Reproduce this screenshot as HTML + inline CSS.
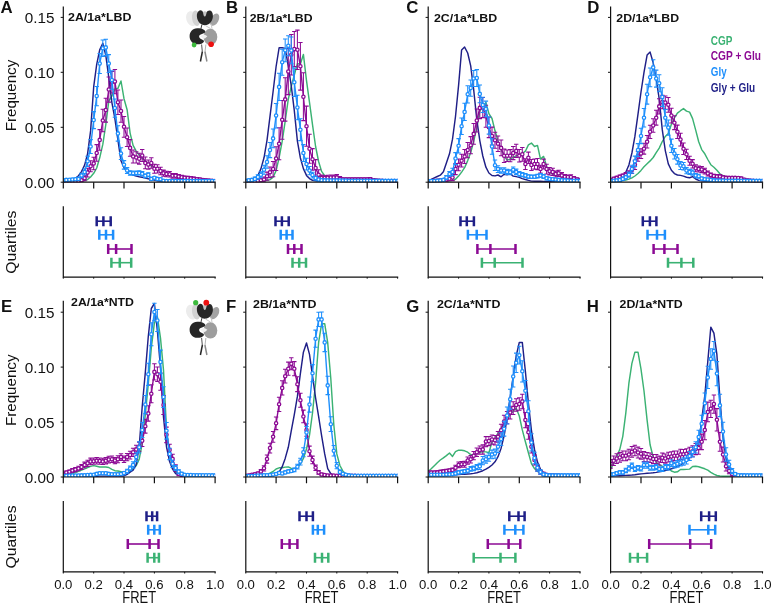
<!DOCTYPE html>
<html><head><meta charset="utf-8"><style>
html,body{margin:0;padding:0;background:#fff;width:772px;height:603px;overflow:hidden}
svg{display:block;will-change:transform}
</style></head><body>
<svg width="772" height="603" viewBox="0 0 772 603">
<defs><clipPath id="cp00"><rect x="63.3" y="-5.5" width="151.8" height="187.7"/></clipPath><clipPath id="cp01"><rect x="245.8" y="-5.5" width="151.8" height="187.7"/></clipPath><clipPath id="cp02"><rect x="428.2" y="-5.5" width="151.8" height="187.7"/></clipPath><clipPath id="cp03"><rect x="610.6" y="-5.5" width="151.8" height="187.7"/></clipPath><clipPath id="cp10"><rect x="63.3" y="288.8" width="151.8" height="188.2"/></clipPath><clipPath id="cp11"><rect x="245.8" y="288.8" width="151.8" height="188.2"/></clipPath><clipPath id="cp12"><rect x="428.2" y="288.8" width="151.8" height="188.2"/></clipPath><clipPath id="cp13"><rect x="610.6" y="288.8" width="151.8" height="188.2"/></clipPath></defs>
<g clip-path="url(#cp00)">
<polyline points="63.3,181.7 66.3,181.6 69.4,181.6 72.4,181.5 75.4,181.4 78.5,181.3 81.5,181.1 84.6,180.6 87.6,179.5 90.6,177.0 93.7,173.3 96.7,168.0 99.7,157.8 102.8,144.4 105.8,124.6 108.8,101.0 111.9,96.0 114.9,88.9 117.9,88.4 121.0,81.0 124.0,98.7 127.1,109.7 130.1,133.1 133.1,145.4 136.2,151.2 139.2,155.1 142.2,158.4 145.3,161.1 148.3,163.7 151.3,166.0 154.4,167.9 157.4,169.5 160.5,171.0 163.5,172.4 166.5,173.5 169.6,174.5 172.6,175.3 175.6,176.1 178.7,176.7 181.7,177.3 184.7,177.8 187.8,178.3 190.8,178.8 193.8,179.3 196.9,179.7 199.9,180.0 203.0,180.3 206.0,180.5 209.0,180.8 212.1,181.0 215.1,181.1" fill="none" stroke="#3bb273" stroke-width="1.45" stroke-linejoin="round"/>
<polyline points="63.3,181.7 66.3,181.4 69.4,180.7 72.4,179.7 75.4,178.3 78.5,175.7 81.5,171.6 84.6,165.1 87.6,153.6 90.6,130.9 93.7,86.7 96.7,64.3 99.7,49.9 102.8,43.3 105.8,55.3 108.8,77.6 111.9,102.6 114.9,118.7 117.9,139.8 121.0,160.8 124.0,167.8 127.1,171.6 130.1,173.7 133.1,175.1 136.2,176.1 139.2,176.8 142.2,177.3 145.3,178.0 148.3,178.8 151.3,179.5 154.4,180.1 157.4,180.7 160.5,181.0 163.5,181.1 166.5,181.2 169.6,181.3 172.6,181.3 175.6,181.4 178.7,181.4 181.7,181.5 184.7,181.5 187.8,181.5 190.8,181.6 193.8,181.6 196.9,181.6 199.9,181.6 203.0,181.6 206.0,181.6 209.0,181.6 212.1,181.6 215.1,181.7" fill="none" stroke="#1f1f87" stroke-width="1.45" stroke-linejoin="round"/>
<path d="M63.3,180.6V182.7M61.1,180.6h4.4M61.1,182.7h4.4M66.3,180.5V182.7M64.1,180.5h4.4M64.1,182.7h4.4M69.4,180.4V182.7M67.2,180.4h4.4M67.2,182.7h4.4M72.4,180.3V182.6M70.2,180.3h4.4M70.2,182.6h4.4M75.4,180.1V182.5M73.2,180.1h4.4M73.2,182.5h4.4M78.5,179.8V182.4M76.3,179.8h4.4M76.3,182.4h4.4M81.5,178.5V181.9M79.3,178.5h4.4M79.3,181.9h4.4M84.6,175.7V180.8M82.4,175.7h4.4M82.4,180.8h4.4M87.6,168.3V176.9M85.4,168.3h4.4M85.4,176.9h4.4M90.6,160.8V171.8M88.4,160.8h4.4M88.4,171.8h4.4M93.7,157.2V169.7M91.5,157.2h4.4M91.5,169.7h4.4M96.7,144.6V161.3M94.5,144.6h4.4M94.5,161.3h4.4M99.7,129.6V150.3M97.5,129.6h4.4M97.5,150.3h4.4M102.8,109.2V131.7M100.6,109.2h4.4M100.6,131.7h4.4M105.8,98.2V122.1M103.6,98.2h4.4M103.6,122.1h4.4M108.8,76.9V102.1M106.6,76.9h4.4M106.6,102.1h4.4M111.9,71.5V93.0M109.7,71.5h4.4M109.7,93.0h4.4M114.9,69.5V93.7M112.7,69.5h4.4M112.7,93.7h4.4M117.9,90.0V114.4M115.7,90.0h4.4M115.7,114.4h4.4M121.0,99.9V122.3M118.8,99.9h4.4M118.8,122.3h4.4M124.0,116.4V137.3M121.8,116.4h4.4M121.8,137.3h4.4M127.1,127.9V146.4M124.9,127.9h4.4M124.9,146.4h4.4M130.1,139.6V156.2M127.9,139.6h4.4M127.9,156.2h4.4M133.1,149.9V162.9M130.9,149.9h4.4M130.9,162.9h4.4M136.2,151.8V163.0M134.0,151.8h4.4M134.0,163.0h4.4M139.2,153.3V164.1M137.0,153.3h4.4M137.0,164.1h4.4M142.2,149.5V161.5M140.0,149.5h4.4M140.0,161.5h4.4M145.3,157.0V168.7M143.1,157.0h4.4M143.1,168.7h4.4M148.3,160.0V169.3M146.1,160.0h4.4M146.1,169.3h4.4M151.3,157.8V168.3M149.1,157.8h4.4M149.1,168.3h4.4M154.4,164.3V173.3M152.2,164.3h4.4M152.2,173.3h4.4M157.4,164.7V172.9M155.2,164.7h4.4M155.2,172.9h4.4M160.5,167.2V174.8M158.3,167.2h4.4M158.3,174.8h4.4M163.5,170.1V176.3M161.3,170.1h4.4M161.3,176.3h4.4M166.5,171.2V176.7M164.3,171.2h4.4M164.3,176.7h4.4M169.6,171.5V177.0M167.4,171.5h4.4M167.4,177.0h4.4M172.6,173.4V178.2M170.4,173.4h4.4M170.4,178.2h4.4M175.6,173.5V178.1M173.4,173.5h4.4M173.4,178.1h4.4M178.7,174.4V178.8M176.5,174.4h4.4M176.5,178.8h4.4M181.7,175.2V179.3M179.5,175.2h4.4M179.5,179.3h4.4M184.7,175.9V179.7M182.5,175.9h4.4M182.5,179.7h4.4M187.8,176.3V180.0M185.6,176.3h4.4M185.6,180.0h4.4M190.8,176.6V180.2M188.6,176.6h4.4M188.6,180.2h4.4M193.8,177.0V180.5M191.6,177.0h4.4M191.6,180.5h4.4M196.9,177.5V180.8M194.7,177.5h4.4M194.7,180.8h4.4M199.9,178.1V181.2M197.7,178.1h4.4M197.7,181.2h4.4M203.0,178.5V181.5M200.8,178.5h4.4M200.8,181.5h4.4M206.0,178.9V181.7M203.8,178.9h4.4M203.8,181.7h4.4M209.0,179.3V182.0M206.8,179.3h4.4M206.8,182.0h4.4M212.1,179.6V182.2M209.9,179.6h4.4M209.9,182.2h4.4M215.1,179.8V182.4M212.9,179.8h4.4M212.9,182.4h4.4" fill="none" stroke="#8c0a94" stroke-width="1.05"/>
<polyline points="63.3,181.7 66.3,181.6 69.4,181.6 72.4,181.5 75.4,181.3 78.5,181.1 81.5,180.2 84.6,178.2 87.6,172.6 90.6,166.3 93.7,163.4 96.7,153.0 99.7,139.9 102.8,120.5 105.8,110.1 108.8,89.5 111.9,82.2 114.9,81.6 117.9,102.2 121.0,111.1 124.0,126.8 127.1,137.2 130.1,147.9 133.1,156.4 136.2,157.4 139.2,158.7 142.2,155.5 145.3,162.9 148.3,164.6 151.3,163.1 154.4,168.8 157.4,168.8 160.5,171.0 163.5,173.2 166.5,174.0 169.6,174.3 172.6,175.8 175.6,175.8 178.7,176.6 181.7,177.3 184.7,177.8 187.8,178.1 190.8,178.4 193.8,178.8 196.9,179.2 199.9,179.6 203.0,180.0 206.0,180.3 209.0,180.6 212.1,180.9 215.1,181.1" fill="none" stroke="#8c0a94" stroke-width="1.4" stroke-linejoin="round"/>
<g fill="#fff" stroke="#8c0a94" stroke-width="1.3"><circle cx="63.3" cy="181.7" r="1.65"/><circle cx="66.3" cy="181.6" r="1.65"/><circle cx="69.4" cy="181.6" r="1.65"/><circle cx="72.4" cy="181.5" r="1.65"/><circle cx="75.4" cy="181.3" r="1.65"/><circle cx="78.5" cy="181.1" r="1.65"/><circle cx="81.5" cy="180.2" r="1.65"/><circle cx="84.6" cy="178.2" r="1.65"/><circle cx="87.6" cy="172.6" r="1.65"/><circle cx="90.6" cy="166.3" r="1.65"/><circle cx="93.7" cy="163.4" r="1.65"/><circle cx="96.7" cy="153.0" r="1.65"/><circle cx="99.7" cy="139.9" r="1.65"/><circle cx="102.8" cy="120.5" r="1.65"/><circle cx="105.8" cy="110.1" r="1.65"/><circle cx="108.8" cy="89.5" r="1.65"/><circle cx="111.9" cy="82.2" r="1.65"/><circle cx="114.9" cy="81.6" r="1.65"/><circle cx="117.9" cy="102.2" r="1.65"/><circle cx="121.0" cy="111.1" r="1.65"/><circle cx="124.0" cy="126.8" r="1.65"/><circle cx="127.1" cy="137.2" r="1.65"/><circle cx="130.1" cy="147.9" r="1.65"/><circle cx="133.1" cy="156.4" r="1.65"/><circle cx="136.2" cy="157.4" r="1.65"/><circle cx="139.2" cy="158.7" r="1.65"/><circle cx="142.2" cy="155.5" r="1.65"/><circle cx="145.3" cy="162.9" r="1.65"/><circle cx="148.3" cy="164.6" r="1.65"/><circle cx="151.3" cy="163.1" r="1.65"/><circle cx="154.4" cy="168.8" r="1.65"/><circle cx="157.4" cy="168.8" r="1.65"/><circle cx="160.5" cy="171.0" r="1.65"/><circle cx="163.5" cy="173.2" r="1.65"/><circle cx="166.5" cy="174.0" r="1.65"/><circle cx="169.6" cy="174.3" r="1.65"/><circle cx="172.6" cy="175.8" r="1.65"/><circle cx="175.6" cy="175.8" r="1.65"/><circle cx="178.7" cy="176.6" r="1.65"/><circle cx="181.7" cy="177.3" r="1.65"/><circle cx="184.7" cy="177.8" r="1.65"/><circle cx="187.8" cy="178.1" r="1.65"/><circle cx="190.8" cy="178.4" r="1.65"/><circle cx="193.8" cy="178.8" r="1.65"/><circle cx="196.9" cy="179.2" r="1.65"/><circle cx="199.9" cy="179.6" r="1.65"/><circle cx="203.0" cy="180.0" r="1.65"/><circle cx="206.0" cy="180.3" r="1.65"/><circle cx="209.0" cy="180.6" r="1.65"/><circle cx="212.1" cy="180.9" r="1.65"/><circle cx="215.1" cy="181.1" r="1.65"/></g>
<path d="M63.3,179.3V181.8M61.1,179.3h4.4M61.1,181.8h4.4M66.3,178.6V181.2M64.1,178.6h4.4M64.1,181.2h4.4M69.4,178.4V180.9M67.2,178.4h4.4M67.2,180.9h4.4M72.4,178.2V180.8M70.2,178.2h4.4M70.2,180.8h4.4M75.4,178.0V180.6M73.2,178.0h4.4M73.2,180.6h4.4M78.5,177.3V180.5M76.3,177.3h4.4M76.3,180.5h4.4M81.5,173.2V177.6M79.3,173.2h4.4M79.3,177.6h4.4M84.6,168.7V175.0M82.4,168.7h4.4M82.4,175.0h4.4M87.6,156.3V166.4M85.4,156.3h4.4M85.4,166.4h4.4M90.6,139.6V153.4M88.4,139.6h4.4M88.4,153.4h4.4M93.7,111.6V128.6M91.5,111.6h4.4M91.5,128.6h4.4M96.7,86.4V105.8M94.5,86.4h4.4M94.5,105.8h4.4M99.7,53.6V73.5M97.5,53.6h4.4M97.5,73.5h4.4M102.8,40.0V56.4M100.6,40.0h4.4M100.6,56.4h4.4M105.8,39.3V55.6M103.6,39.3h4.4M103.6,55.6h4.4M108.8,54.6V72.5M106.6,54.6h4.4M106.6,72.5h4.4M111.9,70.7V89.3M109.7,70.7h4.4M109.7,89.3h4.4M114.9,98.9V117.2M112.7,98.9h4.4M112.7,117.2h4.4M117.9,125.7V141.1M115.7,125.7h4.4M115.7,141.1h4.4M121.0,147.8V159.5M118.8,147.8h4.4M118.8,159.5h4.4M124.0,160.6V169.1M121.8,160.6h4.4M121.8,169.1h4.4M127.1,167.6V173.5M124.9,167.6h4.4M124.9,173.5h4.4M130.1,170.7V175.2M127.9,170.7h4.4M127.9,175.2h4.4M133.1,171.1V175.2M130.9,171.1h4.4M130.9,175.2h4.4M136.2,171.0V175.1M134.0,171.0h4.4M134.0,175.1h4.4M139.2,170.8V175.0M137.0,170.8h4.4M137.0,175.0h4.4M142.2,171.6V175.9M140.0,171.6h4.4M140.0,175.9h4.4M145.3,174.1V177.6M143.1,174.1h4.4M143.1,177.6h4.4M148.3,172.7V176.8M146.1,172.7h4.4M146.1,176.8h4.4M151.3,177.4V180.4M149.1,177.4h4.4M149.1,180.4h4.4M154.4,176.4V179.2M152.2,176.4h4.4M152.2,179.2h4.4M157.4,177.5V180.3M155.2,177.5h4.4M155.2,180.3h4.4M160.5,177.8V180.6M158.3,177.8h4.4M158.3,180.6h4.4M163.5,179.4V181.9M161.3,179.4h4.4M161.3,181.9h4.4M166.5,179.9V182.1M164.3,179.9h4.4M164.3,182.1h4.4M169.6,180.0V182.2M167.4,180.0h4.4M167.4,182.2h4.4M172.6,180.0V182.2M170.4,180.0h4.4M170.4,182.2h4.4M175.6,180.0V182.2M173.4,180.0h4.4M173.4,182.2h4.4M178.7,180.0V182.2M176.5,180.0h4.4M176.5,182.2h4.4M181.7,180.0V182.2M179.5,180.0h4.4M179.5,182.2h4.4M184.7,180.0V182.2M182.5,180.0h4.4M182.5,182.2h4.4M187.8,180.0V182.2M185.6,180.0h4.4M185.6,182.2h4.4M190.8,180.0V182.2M188.6,180.0h4.4M188.6,182.2h4.4M193.8,180.0V182.2M191.6,180.0h4.4M191.6,182.2h4.4M196.9,180.0V182.2M194.7,180.0h4.4M194.7,182.2h4.4M199.9,180.0V182.2M197.7,180.0h4.4M197.7,182.2h4.4M203.0,180.0V182.2M200.8,180.0h4.4M200.8,182.2h4.4M206.0,180.0V182.2M203.8,180.0h4.4M203.8,182.2h4.4M209.0,180.0V182.2M206.8,180.0h4.4M206.8,182.2h4.4M212.1,180.0V182.2M209.9,180.0h4.4M209.9,182.2h4.4M215.1,180.0V182.2M212.9,180.0h4.4M212.9,182.2h4.4" fill="none" stroke="#1e8ffc" stroke-width="1.05"/>
<polyline points="63.3,180.6 66.3,179.9 69.4,179.7 72.4,179.5 75.4,179.3 78.5,178.9 81.5,175.4 84.6,171.9 87.6,161.3 90.6,146.5 93.7,120.1 96.7,96.1 99.7,63.6 102.8,48.2 105.8,47.4 108.8,63.6 111.9,80.0 114.9,108.1 117.9,133.4 121.0,153.6 124.0,164.8 127.1,170.6 130.1,172.9 133.1,173.2 136.2,173.1 139.2,172.9 142.2,173.7 145.3,175.8 148.3,174.7 151.3,178.9 154.4,177.8 157.4,178.9 160.5,179.2 163.5,180.7 166.5,181.0 169.6,181.1 172.6,181.1 175.6,181.1 178.7,181.1 181.7,181.1 184.7,181.1 187.8,181.1 190.8,181.1 193.8,181.1 196.9,181.1 199.9,181.1 203.0,181.1 206.0,181.1 209.0,181.1 212.1,181.1 215.1,181.1" fill="none" stroke="#1e8ffc" stroke-width="1.4" stroke-linejoin="round"/>
<g fill="#fff" stroke="#1e8ffc" stroke-width="1.3"><circle cx="63.3" cy="180.6" r="1.65"/><circle cx="66.3" cy="179.9" r="1.65"/><circle cx="69.4" cy="179.7" r="1.65"/><circle cx="72.4" cy="179.5" r="1.65"/><circle cx="75.4" cy="179.3" r="1.65"/><circle cx="78.5" cy="178.9" r="1.65"/><circle cx="81.5" cy="175.4" r="1.65"/><circle cx="84.6" cy="171.9" r="1.65"/><circle cx="87.6" cy="161.3" r="1.65"/><circle cx="90.6" cy="146.5" r="1.65"/><circle cx="93.7" cy="120.1" r="1.65"/><circle cx="96.7" cy="96.1" r="1.65"/><circle cx="99.7" cy="63.6" r="1.65"/><circle cx="102.8" cy="48.2" r="1.65"/><circle cx="105.8" cy="47.4" r="1.65"/><circle cx="108.8" cy="63.6" r="1.65"/><circle cx="111.9" cy="80.0" r="1.65"/><circle cx="114.9" cy="108.1" r="1.65"/><circle cx="117.9" cy="133.4" r="1.65"/><circle cx="121.0" cy="153.6" r="1.65"/><circle cx="124.0" cy="164.8" r="1.65"/><circle cx="127.1" cy="170.6" r="1.65"/><circle cx="130.1" cy="172.9" r="1.65"/><circle cx="133.1" cy="173.2" r="1.65"/><circle cx="136.2" cy="173.1" r="1.65"/><circle cx="139.2" cy="172.9" r="1.65"/><circle cx="142.2" cy="173.7" r="1.65"/><circle cx="145.3" cy="175.8" r="1.65"/><circle cx="148.3" cy="174.7" r="1.65"/><circle cx="151.3" cy="178.9" r="1.65"/><circle cx="154.4" cy="177.8" r="1.65"/><circle cx="157.4" cy="178.9" r="1.65"/><circle cx="160.5" cy="179.2" r="1.65"/><circle cx="163.5" cy="180.7" r="1.65"/><circle cx="166.5" cy="181.0" r="1.65"/><circle cx="169.6" cy="181.1" r="1.65"/><circle cx="172.6" cy="181.1" r="1.65"/><circle cx="175.6" cy="181.1" r="1.65"/><circle cx="178.7" cy="181.1" r="1.65"/><circle cx="181.7" cy="181.1" r="1.65"/><circle cx="184.7" cy="181.1" r="1.65"/><circle cx="187.8" cy="181.1" r="1.65"/><circle cx="190.8" cy="181.1" r="1.65"/><circle cx="193.8" cy="181.1" r="1.65"/><circle cx="196.9" cy="181.1" r="1.65"/><circle cx="199.9" cy="181.1" r="1.65"/><circle cx="203.0" cy="181.1" r="1.65"/><circle cx="206.0" cy="181.1" r="1.65"/><circle cx="209.0" cy="181.1" r="1.65"/><circle cx="212.1" cy="181.1" r="1.65"/><circle cx="215.1" cy="181.1" r="1.65"/></g>
</g>
<g clip-path="url(#cp01)">
<polyline points="245.8,181.7 248.8,181.6 251.8,181.6 254.9,181.4 257.9,181.2 260.9,181.0 264.0,180.6 267.0,180.2 270.0,179.6 273.1,177.2 276.1,170.6 279.1,157.9 282.2,141.2 285.2,121.2 288.3,99.0 291.3,86.4 294.3,75.0 297.4,63.6 300.4,64.0 303.4,54.4 306.5,80.7 309.5,102.3 312.5,124.7 315.6,146.5 318.6,161.5 321.6,171.4 324.7,175.6 327.7,177.3 330.8,178.2 333.8,179.2 336.8,180.0 339.9,180.2 342.9,180.3 345.9,180.4 349.0,180.6 352.0,180.7 355.0,180.8 358.1,180.9 361.1,180.9 364.2,181.0 367.2,181.1 370.2,181.1 373.3,181.2 376.3,181.2 379.3,181.2 382.4,181.3 385.4,181.3 388.4,181.3 391.5,181.3 394.5,181.3 397.6,181.3" fill="none" stroke="#3bb273" stroke-width="1.45" stroke-linejoin="round"/>
<polyline points="245.8,181.7 248.8,181.3 251.8,180.3 254.9,178.7 257.9,175.5 260.9,168.9 264.0,157.8 267.0,140.3 270.0,116.3 273.1,91.5 276.1,66.5 279.1,47.8 282.2,47.8 285.2,48.4 288.3,66.4 291.3,86.2 294.3,110.6 297.4,141.1 300.4,158.0 303.4,168.6 306.5,175.4 309.5,178.6 312.5,180.3 315.6,180.7 318.6,181.0 321.6,181.1 324.7,181.2 327.7,181.2 330.8,181.2 333.8,181.3 336.8,181.3 339.9,181.4 342.9,181.4 345.9,181.4 349.0,181.5 352.0,181.5 355.0,181.5 358.1,181.5 361.1,181.5 364.2,181.6 367.2,181.6 370.2,181.6 373.3,181.6 376.3,181.6 379.3,181.6 382.4,181.6 385.4,181.6 388.4,181.6 391.5,181.6 394.5,181.7 397.6,181.7" fill="none" stroke="#1f1f87" stroke-width="1.45" stroke-linejoin="round"/>
<path d="M245.8,180.4V182.9M243.6,180.4h4.4M243.6,182.9h4.4M248.8,180.3V182.9M246.6,180.3h4.4M246.6,182.9h4.4M251.8,180.1V182.8M249.6,180.1h4.4M249.6,182.8h4.4M254.9,179.7V182.7M252.7,179.7h4.4M252.7,182.7h4.4M257.9,179.2V182.4M255.7,179.2h4.4M255.7,182.4h4.4M260.9,178.4V182.1M258.7,178.4h4.4M258.7,182.1h4.4M264.0,177.0V182.1M261.8,177.0h4.4M261.8,182.1h4.4M267.0,172.1V180.2M264.8,172.1h4.4M264.8,180.2h4.4M270.0,167.0V177.6M267.8,167.0h4.4M267.8,177.6h4.4M273.1,161.4V176.8M270.9,161.4h4.4M270.9,176.8h4.4M276.1,146.7V170.5M273.9,146.7h4.4M273.9,170.5h4.4M279.1,127.7V159.8M276.9,127.7h4.4M276.9,159.8h4.4M282.2,100.4V139.2M280.0,100.4h4.4M280.0,139.2h4.4M285.2,77.7V121.1M283.0,77.7h4.4M283.0,121.1h4.4M288.3,48.6V94.6M286.1,48.6h4.4M286.1,94.6h4.4M291.3,34.5V75.0M289.1,34.5h4.4M289.1,75.0h4.4M294.3,31.5V66.6M292.1,31.5h4.4M292.1,66.6h4.4M297.4,30.1V69.4M295.2,30.1h4.4M295.2,69.4h4.4M300.4,42.5V90.1M298.2,42.5h4.4M298.2,90.1h4.4M303.4,72.8V120.6M301.2,72.8h4.4M301.2,120.6h4.4M306.5,106.1V146.3M304.3,106.1h4.4M304.3,146.3h4.4M309.5,134.2V163.2M307.3,134.2h4.4M307.3,163.2h4.4M312.5,148.6V170.1M310.3,148.6h4.4M310.3,170.1h4.4M315.6,159.6V176.4M313.4,159.6h4.4M313.4,176.4h4.4M318.6,169.7V179.7M316.4,169.7h4.4M316.4,179.7h4.4M321.6,175.1V180.8M319.4,175.1h4.4M319.4,180.8h4.4M324.7,175.7V180.3M322.5,175.7h4.4M322.5,180.3h4.4M327.7,175.3V180.1M325.5,175.3h4.4M325.5,180.1h4.4M330.8,175.1V180.0M328.6,175.1h4.4M328.6,180.0h4.4M333.8,174.9V179.9M331.6,174.9h4.4M331.6,179.9h4.4M336.8,174.6V180.1M334.6,174.6h4.4M334.6,180.1h4.4M339.9,176.6V181.3M337.7,176.6h4.4M337.7,181.3h4.4M342.9,177.7V181.5M340.7,177.7h4.4M340.7,181.5h4.4M345.9,177.7V181.4M343.7,177.7h4.4M343.7,181.4h4.4M349.0,177.7V181.4M346.8,177.7h4.4M346.8,181.4h4.4M352.0,177.7V181.4M349.8,177.7h4.4M349.8,181.4h4.4M355.0,177.7V181.4M352.8,177.7h4.4M352.8,181.4h4.4M358.1,177.7V181.4M355.9,177.7h4.4M355.9,181.4h4.4M361.1,177.7V181.4M358.9,177.7h4.4M358.9,181.4h4.4M364.2,177.7V181.4M362.0,177.7h4.4M362.0,181.4h4.4M367.2,177.7V181.4M365.0,177.7h4.4M365.0,181.4h4.4M370.2,177.6V181.5M368.0,177.6h4.4M368.0,181.5h4.4M373.3,178.5V182.1M371.1,178.5h4.4M371.1,182.1h4.4M376.3,179.0V182.2M374.1,179.0h4.4M374.1,182.2h4.4M379.3,179.2V182.3M377.1,179.2h4.4M377.1,182.3h4.4M382.4,179.4V182.4M380.2,179.4h4.4M380.2,182.4h4.4M385.4,179.5V182.4M383.2,179.5h4.4M383.2,182.4h4.4M388.4,179.6V182.4M386.2,179.6h4.4M386.2,182.4h4.4M391.5,179.7V182.5M389.3,179.7h4.4M389.3,182.5h4.4M394.5,179.7V182.5M392.3,179.7h4.4M392.3,182.5h4.4M397.6,179.7V182.5M395.4,179.7h4.4M395.4,182.5h4.4" fill="none" stroke="#8c0a94" stroke-width="1.05"/>
<polyline points="245.8,181.7 248.8,181.6 251.8,181.5 254.9,181.2 257.9,180.8 260.9,180.3 264.0,179.6 267.0,176.2 270.0,172.3 273.1,169.1 276.1,158.6 279.1,143.8 282.2,119.8 285.2,99.4 288.3,71.6 291.3,54.8 294.3,49.1 297.4,49.7 300.4,66.3 303.4,96.7 306.5,126.2 309.5,148.7 312.5,159.3 315.6,168.0 318.6,174.7 321.6,178.0 324.7,178.0 327.7,177.7 330.8,177.5 333.8,177.4 336.8,177.4 339.9,179.0 342.9,179.6 345.9,179.6 349.0,179.6 352.0,179.6 355.0,179.6 358.1,179.6 361.1,179.6 364.2,179.6 367.2,179.6 370.2,179.6 373.3,180.3 376.3,180.6 379.3,180.8 382.4,180.9 385.4,181.0 388.4,181.0 391.5,181.1 394.5,181.1 397.6,181.1" fill="none" stroke="#8c0a94" stroke-width="1.4" stroke-linejoin="round"/>
<g fill="#fff" stroke="#8c0a94" stroke-width="1.3"><circle cx="245.8" cy="181.7" r="1.65"/><circle cx="248.8" cy="181.6" r="1.65"/><circle cx="251.8" cy="181.5" r="1.65"/><circle cx="254.9" cy="181.2" r="1.65"/><circle cx="257.9" cy="180.8" r="1.65"/><circle cx="260.9" cy="180.3" r="1.65"/><circle cx="264.0" cy="179.6" r="1.65"/><circle cx="267.0" cy="176.2" r="1.65"/><circle cx="270.0" cy="172.3" r="1.65"/><circle cx="273.1" cy="169.1" r="1.65"/><circle cx="276.1" cy="158.6" r="1.65"/><circle cx="279.1" cy="143.8" r="1.65"/><circle cx="282.2" cy="119.8" r="1.65"/><circle cx="285.2" cy="99.4" r="1.65"/><circle cx="288.3" cy="71.6" r="1.65"/><circle cx="291.3" cy="54.8" r="1.65"/><circle cx="294.3" cy="49.1" r="1.65"/><circle cx="297.4" cy="49.7" r="1.65"/><circle cx="300.4" cy="66.3" r="1.65"/><circle cx="303.4" cy="96.7" r="1.65"/><circle cx="306.5" cy="126.2" r="1.65"/><circle cx="309.5" cy="148.7" r="1.65"/><circle cx="312.5" cy="159.3" r="1.65"/><circle cx="315.6" cy="168.0" r="1.65"/><circle cx="318.6" cy="174.7" r="1.65"/><circle cx="321.6" cy="178.0" r="1.65"/><circle cx="324.7" cy="178.0" r="1.65"/><circle cx="327.7" cy="177.7" r="1.65"/><circle cx="330.8" cy="177.5" r="1.65"/><circle cx="333.8" cy="177.4" r="1.65"/><circle cx="336.8" cy="177.4" r="1.65"/><circle cx="339.9" cy="179.0" r="1.65"/><circle cx="342.9" cy="179.6" r="1.65"/><circle cx="345.9" cy="179.6" r="1.65"/><circle cx="349.0" cy="179.6" r="1.65"/><circle cx="352.0" cy="179.6" r="1.65"/><circle cx="355.0" cy="179.6" r="1.65"/><circle cx="358.1" cy="179.6" r="1.65"/><circle cx="361.1" cy="179.6" r="1.65"/><circle cx="364.2" cy="179.6" r="1.65"/><circle cx="367.2" cy="179.6" r="1.65"/><circle cx="370.2" cy="179.6" r="1.65"/><circle cx="373.3" cy="180.3" r="1.65"/><circle cx="376.3" cy="180.6" r="1.65"/><circle cx="379.3" cy="180.8" r="1.65"/><circle cx="382.4" cy="180.9" r="1.65"/><circle cx="385.4" cy="181.0" r="1.65"/><circle cx="388.4" cy="181.0" r="1.65"/><circle cx="391.5" cy="181.1" r="1.65"/><circle cx="394.5" cy="181.1" r="1.65"/><circle cx="397.6" cy="181.1" r="1.65"/></g>
<path d="M245.8,179.6V182.2M243.6,179.6h4.4M243.6,182.2h4.4M248.8,179.0V181.7M246.6,179.0h4.4M246.6,181.7h4.4M251.8,178.4V181.4M249.6,178.4h4.4M249.6,181.4h4.4M254.9,177.1V180.7M252.7,177.1h4.4M252.7,180.7h4.4M257.9,174.7V179.2M255.7,174.7h4.4M255.7,179.2h4.4M260.9,171.8V177.7M258.7,171.8h4.4M258.7,177.7h4.4M264.0,165.3V174.3M261.8,165.3h4.4M261.8,174.3h4.4M267.0,155.7V168.3M264.8,155.7h4.4M264.8,168.3h4.4M270.0,142.4V157.6M267.8,142.4h4.4M267.8,157.6h4.4M273.1,129.0V147.7M270.9,129.0h4.4M270.9,147.7h4.4M276.1,103.4V127.9M273.9,103.4h4.4M273.9,127.9h4.4M279.1,73.2V100.5M276.9,73.2h4.4M276.9,100.5h4.4M282.2,49.3V75.2M280.0,49.3h4.4M280.0,75.2h4.4M285.2,38.9V61.7M283.0,38.9h4.4M283.0,61.7h4.4M288.3,35.8V55.7M286.1,35.8h4.4M286.1,55.7h4.4M291.3,37.0V63.7M289.1,37.0h4.4M289.1,63.7h4.4M294.3,68.0V96.4M292.1,68.0h4.4M292.1,96.4h4.4M297.4,95.3V119.7M295.2,95.3h4.4M295.2,119.7h4.4M300.4,118.8V140.6M298.2,118.8h4.4M298.2,140.6h4.4M303.4,144.6V161.4M301.2,144.6h4.4M301.2,161.4h4.4M306.5,158.2V170.0M304.3,158.2h4.4M304.3,170.0h4.4M309.5,166.4V174.7M307.3,166.4h4.4M307.3,174.7h4.4M312.5,172.2V178.0M310.3,172.2h4.4M310.3,178.0h4.4M315.6,176.0V180.2M313.4,176.0h4.4M313.4,180.2h4.4M318.6,178.0V181.2M316.4,178.0h4.4M316.4,181.2h4.4M321.6,179.0V181.7M319.4,179.0h4.4M319.4,181.7h4.4M324.7,179.1V181.7M322.5,179.1h4.4M322.5,181.7h4.4M327.7,179.2V181.7M325.5,179.2h4.4M325.5,181.7h4.4M330.8,179.2V181.8M328.6,179.2h4.4M328.6,181.8h4.4M333.8,179.3V181.8M331.6,179.3h4.4M331.6,181.8h4.4M336.8,179.3V181.8M334.6,179.3h4.4M334.6,181.8h4.4M339.9,179.3V181.8M337.7,179.3h4.4M337.7,181.8h4.4M342.9,179.4V181.9M340.7,179.4h4.4M340.7,181.9h4.4M345.9,179.4V181.9M343.7,179.4h4.4M343.7,181.9h4.4M349.0,179.4V181.9M346.8,179.4h4.4M346.8,181.9h4.4M352.0,179.4V181.9M349.8,179.4h4.4M349.8,181.9h4.4M355.0,179.5V181.9M352.8,179.5h4.4M352.8,181.9h4.4M358.1,179.5V182.0M355.9,179.5h4.4M355.9,182.0h4.4M361.1,179.5V182.0M358.9,179.5h4.4M358.9,182.0h4.4M364.2,179.5V182.0M362.0,179.5h4.4M362.0,182.0h4.4M367.2,179.6V182.0M365.0,179.6h4.4M365.0,182.0h4.4M370.2,179.6V182.0M368.0,179.6h4.4M368.0,182.0h4.4M373.3,179.6V182.0M371.1,179.6h4.4M371.1,182.0h4.4M376.3,179.6V182.0M374.1,179.6h4.4M374.1,182.0h4.4M379.3,179.6V182.1M377.1,179.6h4.4M377.1,182.1h4.4M382.4,179.6V182.1M380.2,179.6h4.4M380.2,182.1h4.4M385.4,179.7V182.1M383.2,179.7h4.4M383.2,182.1h4.4M388.4,179.7V182.1M386.2,179.7h4.4M386.2,182.1h4.4M391.5,179.7V182.1M389.3,179.7h4.4M389.3,182.1h4.4M394.5,179.7V182.1M392.3,179.7h4.4M392.3,182.1h4.4M397.6,179.7V182.1M395.4,179.7h4.4M395.4,182.1h4.4" fill="none" stroke="#1e8ffc" stroke-width="1.05"/>
<polyline points="245.8,180.9 248.8,180.3 251.8,179.9 254.9,178.9 257.9,176.9 260.9,174.7 264.0,169.8 267.0,162.0 270.0,150.0 273.1,138.4 276.1,115.6 279.1,86.9 282.2,62.2 285.2,50.3 288.3,45.8 291.3,50.4 294.3,82.2 297.4,107.5 300.4,129.7 303.4,153.0 306.5,164.1 309.5,170.6 312.5,175.1 315.6,178.1 318.6,179.6 321.6,180.3 324.7,180.4 327.7,180.5 330.8,180.5 333.8,180.5 336.8,180.6 339.9,180.6 342.9,180.6 345.9,180.6 349.0,180.7 352.0,180.7 355.0,180.7 358.1,180.7 361.1,180.7 364.2,180.8 367.2,180.8 370.2,180.8 373.3,180.8 376.3,180.8 379.3,180.8 382.4,180.9 385.4,180.9 388.4,180.9 391.5,180.9 394.5,180.9 397.6,180.9" fill="none" stroke="#1e8ffc" stroke-width="1.4" stroke-linejoin="round"/>
<g fill="#fff" stroke="#1e8ffc" stroke-width="1.3"><circle cx="245.8" cy="180.9" r="1.65"/><circle cx="248.8" cy="180.3" r="1.65"/><circle cx="251.8" cy="179.9" r="1.65"/><circle cx="254.9" cy="178.9" r="1.65"/><circle cx="257.9" cy="176.9" r="1.65"/><circle cx="260.9" cy="174.7" r="1.65"/><circle cx="264.0" cy="169.8" r="1.65"/><circle cx="267.0" cy="162.0" r="1.65"/><circle cx="270.0" cy="150.0" r="1.65"/><circle cx="273.1" cy="138.4" r="1.65"/><circle cx="276.1" cy="115.6" r="1.65"/><circle cx="279.1" cy="86.9" r="1.65"/><circle cx="282.2" cy="62.2" r="1.65"/><circle cx="285.2" cy="50.3" r="1.65"/><circle cx="288.3" cy="45.8" r="1.65"/><circle cx="291.3" cy="50.4" r="1.65"/><circle cx="294.3" cy="82.2" r="1.65"/><circle cx="297.4" cy="107.5" r="1.65"/><circle cx="300.4" cy="129.7" r="1.65"/><circle cx="303.4" cy="153.0" r="1.65"/><circle cx="306.5" cy="164.1" r="1.65"/><circle cx="309.5" cy="170.6" r="1.65"/><circle cx="312.5" cy="175.1" r="1.65"/><circle cx="315.6" cy="178.1" r="1.65"/><circle cx="318.6" cy="179.6" r="1.65"/><circle cx="321.6" cy="180.3" r="1.65"/><circle cx="324.7" cy="180.4" r="1.65"/><circle cx="327.7" cy="180.5" r="1.65"/><circle cx="330.8" cy="180.5" r="1.65"/><circle cx="333.8" cy="180.5" r="1.65"/><circle cx="336.8" cy="180.6" r="1.65"/><circle cx="339.9" cy="180.6" r="1.65"/><circle cx="342.9" cy="180.6" r="1.65"/><circle cx="345.9" cy="180.6" r="1.65"/><circle cx="349.0" cy="180.7" r="1.65"/><circle cx="352.0" cy="180.7" r="1.65"/><circle cx="355.0" cy="180.7" r="1.65"/><circle cx="358.1" cy="180.7" r="1.65"/><circle cx="361.1" cy="180.7" r="1.65"/><circle cx="364.2" cy="180.8" r="1.65"/><circle cx="367.2" cy="180.8" r="1.65"/><circle cx="370.2" cy="180.8" r="1.65"/><circle cx="373.3" cy="180.8" r="1.65"/><circle cx="376.3" cy="180.8" r="1.65"/><circle cx="379.3" cy="180.8" r="1.65"/><circle cx="382.4" cy="180.9" r="1.65"/><circle cx="385.4" cy="180.9" r="1.65"/><circle cx="388.4" cy="180.9" r="1.65"/><circle cx="391.5" cy="180.9" r="1.65"/><circle cx="394.5" cy="180.9" r="1.65"/><circle cx="397.6" cy="180.9" r="1.65"/></g>
</g>
<g clip-path="url(#cp02)">
<polyline points="428.2,181.7 431.2,181.6 434.3,181.6 437.3,181.5 440.3,181.4 443.4,181.2 446.4,181.0 449.5,180.7 452.5,180.4 455.5,179.3 458.6,176.0 461.6,172.1 464.6,167.7 467.7,160.6 470.7,152.5 473.7,141.3 476.8,127.4 479.8,111.1 482.8,106.4 485.9,102.5 488.9,113.6 492.0,118.5 495.0,130.8 498.0,141.0 501.1,149.4 504.1,155.8 507.1,160.1 510.2,159.2 513.2,157.2 516.2,155.9 519.3,154.7 522.3,153.5 525.4,151.2 528.4,144.9 531.4,143.1 534.5,146.5 537.5,145.4 540.5,159.1 543.6,156.4 546.6,166.3 549.6,172.3 552.7,174.1 555.7,175.1 558.7,176.1 561.8,177.1 564.8,177.8 567.9,178.4 570.9,178.9 573.9,179.4 577.0,179.8 580.0,180.0" fill="none" stroke="#3bb273" stroke-width="1.45" stroke-linejoin="round"/>
<polyline points="428.2,180.6 431.2,179.4 434.3,177.9 437.3,176.5 440.3,175.2 443.4,171.8 446.4,163.0 449.5,153.8 452.5,139.2 455.5,116.5 458.6,85.1 461.6,50.0 464.6,47.1 467.7,53.0 470.7,65.8 473.7,89.8 476.8,119.6 479.8,140.6 482.8,156.0 485.9,167.2 488.9,173.0 492.0,175.5 495.0,175.9 498.0,175.0 501.1,176.8 504.1,174.3 507.1,174.7 510.2,173.7 513.2,176.1 516.2,176.6 519.3,177.4 522.3,178.6 525.4,179.5 528.4,180.4 531.4,181.1 534.5,181.2 537.5,181.3 540.5,181.3 543.6,181.4 546.6,181.4 549.6,181.5 552.7,181.5 555.7,181.5 558.7,181.6 561.8,181.6 564.8,181.6 567.9,181.6 570.9,181.6 573.9,181.6 577.0,181.6 580.0,181.7" fill="none" stroke="#1f1f87" stroke-width="1.45" stroke-linejoin="round"/>
<path d="M428.2,179.9V182.3M426.0,179.9h4.4M426.0,182.3h4.4M431.2,179.8V182.3M429.0,179.8h4.4M429.0,182.3h4.4M434.3,179.6V182.2M432.1,179.6h4.4M432.1,182.2h4.4M437.3,179.3V182.0M435.1,179.3h4.4M435.1,182.0h4.4M440.3,178.9V181.8M438.1,178.9h4.4M438.1,181.8h4.4M443.4,178.5V181.5M441.2,178.5h4.4M441.2,181.5h4.4M446.4,177.9V181.2M444.2,177.9h4.4M444.2,181.2h4.4M449.5,176.9V180.8M447.3,176.9h4.4M447.3,180.8h4.4M452.5,174.4V180.6M450.3,174.4h4.4M450.3,180.6h4.4M455.5,163.6V174.6M453.3,163.6h4.4M453.3,174.6h4.4M458.6,159.0V170.7M456.4,159.0h4.4M456.4,170.7h4.4M461.6,154.3V167.0M459.4,154.3h4.4M459.4,167.0h4.4M464.6,149.4V163.4M462.4,149.4h4.4M462.4,163.4h4.4M467.7,142.4V157.7M465.5,142.4h4.4M465.5,157.7h4.4M470.7,136.6V153.8M468.5,136.6h4.4M468.5,153.8h4.4M473.7,123.4V144.3M471.5,123.4h4.4M471.5,144.3h4.4M476.8,109.0V132.0M474.6,109.0h4.4M474.6,132.0h4.4M479.8,97.3V118.6M477.6,97.3h4.4M477.6,118.6h4.4M482.8,97.4V117.6M480.6,97.4h4.4M480.6,117.6h4.4M485.9,105.3V127.3M483.7,105.3h4.4M483.7,127.3h4.4M488.9,116.9V137.6M486.7,116.9h4.4M486.7,137.6h4.4M492.0,127.1V145.0M489.8,127.1h4.4M489.8,145.0h4.4M495.0,132.3V148.2M492.8,132.3h4.4M492.8,148.2h4.4M498.0,136.0V151.5M495.8,136.0h4.4M495.8,151.5h4.4M501.1,140.0V155.8M498.9,140.0h4.4M498.9,155.8h4.4M504.1,149.0V162.5M501.9,149.0h4.4M501.9,162.5h4.4M507.1,149.9V161.5M504.9,149.9h4.4M504.9,161.5h4.4M510.2,149.6V161.8M508.0,149.6h4.4M508.0,161.8h4.4M513.2,146.4V159.6M511.0,146.4h4.4M511.0,159.6h4.4M516.2,144.3V157.4M514.0,144.3h4.4M514.0,157.4h4.4M519.3,149.5V161.9M517.1,149.5h4.4M517.1,161.9h4.4M522.3,147.4V161.2M520.1,147.4h4.4M520.1,161.2h4.4M525.4,158.7V169.4M523.2,158.7h4.4M523.2,169.4h4.4M528.4,152.1V163.5M526.2,152.1h4.4M526.2,163.5h4.4M531.4,159.4V170.5M529.2,159.4h4.4M529.2,170.5h4.4M534.5,159.0V169.1M532.3,159.0h4.4M532.3,169.1h4.4M537.5,158.5V169.6M535.3,158.5h4.4M535.3,169.6h4.4M540.5,165.2V173.1M538.3,165.2h4.4M538.3,173.1h4.4M543.6,159.1V169.0M541.4,159.1h4.4M541.4,169.0h4.4M546.6,164.3V174.0M544.4,164.3h4.4M544.4,174.0h4.4M549.6,167.5V175.0M547.4,167.5h4.4M547.4,175.0h4.4M552.7,168.3V175.4M550.5,168.3h4.4M550.5,175.4h4.4M555.7,171.1V176.9M553.5,171.1h4.4M553.5,176.9h4.4M558.7,170.2V176.4M556.5,170.2h4.4M556.5,176.4h4.4M561.8,172.6V178.2M559.6,172.6h4.4M559.6,178.2h4.4M564.8,174.5V179.1M562.6,174.5h4.4M562.6,179.1h4.4M567.9,175.0V179.1M565.7,175.0h4.4M565.7,179.1h4.4M570.9,174.8V179.3M568.7,174.8h4.4M568.7,179.3h4.4M573.9,176.5V180.6M571.7,176.5h4.4M571.7,180.6h4.4M577.0,177.8V181.2M574.8,177.8h4.4M574.8,181.2h4.4M580.0,178.4V181.6M577.8,178.4h4.4M577.8,181.6h4.4" fill="none" stroke="#8c0a94" stroke-width="1.05"/>
<polyline points="428.2,181.1 431.2,181.0 434.3,180.9 437.3,180.7 440.3,180.4 443.4,180.0 446.4,179.6 449.5,178.8 452.5,177.5 455.5,169.1 458.6,164.8 461.6,160.7 464.6,156.4 467.7,150.0 470.7,145.2 473.7,133.9 476.8,120.5 479.8,107.9 482.8,107.5 485.9,116.3 488.9,127.3 492.0,136.1 495.0,140.2 498.0,143.8 501.1,147.9 504.1,155.7 507.1,155.7 510.2,155.7 513.2,153.0 516.2,150.9 519.3,155.7 522.3,154.3 525.4,164.1 528.4,157.8 531.4,165.0 534.5,164.1 537.5,164.1 540.5,169.1 543.6,164.1 546.6,169.1 549.6,171.2 552.7,171.9 555.7,174.0 558.7,173.3 561.8,175.4 564.8,176.8 567.9,177.0 570.9,177.0 573.9,178.6 577.0,179.5 580.0,180.0" fill="none" stroke="#8c0a94" stroke-width="1.4" stroke-linejoin="round"/>
<g fill="#fff" stroke="#8c0a94" stroke-width="1.3"><circle cx="428.2" cy="181.1" r="1.65"/><circle cx="431.2" cy="181.0" r="1.65"/><circle cx="434.3" cy="180.9" r="1.65"/><circle cx="437.3" cy="180.7" r="1.65"/><circle cx="440.3" cy="180.4" r="1.65"/><circle cx="443.4" cy="180.0" r="1.65"/><circle cx="446.4" cy="179.6" r="1.65"/><circle cx="449.5" cy="178.8" r="1.65"/><circle cx="452.5" cy="177.5" r="1.65"/><circle cx="455.5" cy="169.1" r="1.65"/><circle cx="458.6" cy="164.8" r="1.65"/><circle cx="461.6" cy="160.7" r="1.65"/><circle cx="464.6" cy="156.4" r="1.65"/><circle cx="467.7" cy="150.0" r="1.65"/><circle cx="470.7" cy="145.2" r="1.65"/><circle cx="473.7" cy="133.9" r="1.65"/><circle cx="476.8" cy="120.5" r="1.65"/><circle cx="479.8" cy="107.9" r="1.65"/><circle cx="482.8" cy="107.5" r="1.65"/><circle cx="485.9" cy="116.3" r="1.65"/><circle cx="488.9" cy="127.3" r="1.65"/><circle cx="492.0" cy="136.1" r="1.65"/><circle cx="495.0" cy="140.2" r="1.65"/><circle cx="498.0" cy="143.8" r="1.65"/><circle cx="501.1" cy="147.9" r="1.65"/><circle cx="504.1" cy="155.7" r="1.65"/><circle cx="507.1" cy="155.7" r="1.65"/><circle cx="510.2" cy="155.7" r="1.65"/><circle cx="513.2" cy="153.0" r="1.65"/><circle cx="516.2" cy="150.9" r="1.65"/><circle cx="519.3" cy="155.7" r="1.65"/><circle cx="522.3" cy="154.3" r="1.65"/><circle cx="525.4" cy="164.1" r="1.65"/><circle cx="528.4" cy="157.8" r="1.65"/><circle cx="531.4" cy="165.0" r="1.65"/><circle cx="534.5" cy="164.1" r="1.65"/><circle cx="537.5" cy="164.1" r="1.65"/><circle cx="540.5" cy="169.1" r="1.65"/><circle cx="543.6" cy="164.1" r="1.65"/><circle cx="546.6" cy="169.1" r="1.65"/><circle cx="549.6" cy="171.2" r="1.65"/><circle cx="552.7" cy="171.9" r="1.65"/><circle cx="555.7" cy="174.0" r="1.65"/><circle cx="558.7" cy="173.3" r="1.65"/><circle cx="561.8" cy="175.4" r="1.65"/><circle cx="564.8" cy="176.8" r="1.65"/><circle cx="567.9" cy="177.0" r="1.65"/><circle cx="570.9" cy="177.0" r="1.65"/><circle cx="573.9" cy="178.6" r="1.65"/><circle cx="577.0" cy="179.5" r="1.65"/><circle cx="580.0" cy="180.0" r="1.65"/></g>
<path d="M428.2,180.0V182.2M426.0,180.0h4.4M426.0,182.2h4.4M431.2,179.9V182.2M429.0,179.9h4.4M429.0,182.2h4.4M434.3,179.8V182.1M432.1,179.8h4.4M432.1,182.1h4.4M437.3,179.6V182.0M435.1,179.6h4.4M435.1,182.0h4.4M440.3,179.3V181.8M438.1,179.3h4.4M438.1,181.8h4.4M443.4,178.4V181.4M441.2,178.4h4.4M441.2,181.4h4.4M446.4,175.4V179.5M444.2,175.4h4.4M444.2,179.5h4.4M449.5,171.4V176.5M447.3,171.4h4.4M447.3,176.5h4.4M452.5,168.2V175.5M450.3,168.2h4.4M450.3,175.5h4.4M455.5,152.6V164.6M453.3,152.6h4.4M453.3,164.6h4.4M458.6,138.6V153.0M456.4,138.6h4.4M456.4,153.0h4.4M461.6,117.9V134.4M459.4,117.9h4.4M459.4,134.4h4.4M464.6,103.3V120.5M462.4,103.3h4.4M462.4,120.5h4.4M467.7,85.7V102.9M465.5,85.7h4.4M465.5,102.9h4.4M470.7,79.9V96.3M468.5,79.9h4.4M468.5,96.3h4.4M473.7,70.5V86.5M471.5,70.5h4.4M471.5,86.5h4.4M476.8,69.6V86.5M474.6,69.6h4.4M474.6,86.5h4.4M479.8,85.0V102.8M477.6,85.0h4.4M477.6,102.8h4.4M482.8,97.3V112.4M480.6,97.3h4.4M480.6,112.4h4.4M485.9,101.1V116.8M483.7,101.1h4.4M483.7,116.8h4.4M488.9,117.0V134.1M486.7,117.0h4.4M486.7,134.1h4.4M492.0,138.8V154.2M489.8,138.8h4.4M489.8,154.2h4.4M495.0,159.9V170.4M492.8,159.9h4.4M492.8,170.4h4.4M498.0,165.8V172.5M495.8,165.8h4.4M495.8,172.5h4.4M501.1,167.8V173.3M498.9,167.8h4.4M498.9,173.3h4.4M504.1,167.8V173.3M501.9,167.8h4.4M501.9,173.3h4.4M507.1,169.3V174.4M504.9,169.3h4.4M504.9,174.4h4.4M510.2,169.7V174.7M508.0,169.7h4.4M508.0,174.7h4.4M513.2,167.0V172.6M511.0,167.0h4.4M511.0,172.6h4.4M516.2,169.1V174.6M514.0,169.1h4.4M514.0,174.6h4.4M519.3,171.6V176.3M517.1,171.6h4.4M517.1,176.3h4.4M522.3,172.6V176.8M520.1,172.6h4.4M520.1,176.8h4.4M525.4,173.4V177.4M523.2,173.4h4.4M523.2,177.4h4.4M528.4,174.8V178.4M526.2,174.8h4.4M526.2,178.4h4.4M531.4,175.1V178.5M529.2,175.1h4.4M529.2,178.5h4.4M534.5,175.1V178.5M532.3,175.1h4.4M532.3,178.5h4.4M537.5,174.2V178.0M535.3,174.2h4.4M535.3,178.0h4.4M540.5,173.5V177.3M538.3,173.5h4.4M538.3,177.3h4.4M543.6,174.5V178.4M541.4,174.5h4.4M541.4,178.4h4.4M546.6,176.6V179.9M544.4,176.6h4.4M544.4,179.9h4.4M549.6,177.4V180.3M547.4,177.4h4.4M547.4,180.3h4.4M552.7,177.9V180.7M550.5,177.9h4.4M550.5,180.7h4.4M555.7,178.2V180.9M553.5,178.2h4.4M553.5,180.9h4.4M558.7,178.6V181.2M556.5,178.6h4.4M556.5,181.2h4.4M561.8,178.9V181.5M559.6,178.9h4.4M559.6,181.5h4.4M564.8,179.2V181.7M562.6,179.2h4.4M562.6,181.7h4.4M567.9,179.4V181.8M565.7,179.4h4.4M565.7,181.8h4.4M570.9,179.5V181.9M568.7,179.5h4.4M568.7,181.9h4.4M573.9,179.6V182.0M571.7,179.6h4.4M571.7,182.0h4.4M577.0,179.7V182.0M574.8,179.7h4.4M574.8,182.0h4.4M580.0,179.7V182.0M577.8,179.7h4.4M577.8,182.0h4.4" fill="none" stroke="#1e8ffc" stroke-width="1.05"/>
<polyline points="428.2,181.1 431.2,181.1 434.3,181.0 437.3,180.8 440.3,180.5 443.4,179.9 446.4,177.5 449.5,174.0 452.5,171.9 455.5,158.6 458.6,145.8 461.6,126.2 464.6,111.9 467.7,94.3 470.7,88.1 473.7,78.5 476.8,78.1 479.8,93.9 482.8,104.9 485.9,108.9 488.9,125.5 492.0,146.5 495.0,165.2 498.0,169.1 501.1,170.6 504.1,170.6 507.1,171.9 510.2,172.2 513.2,169.8 516.2,171.9 519.3,174.0 522.3,174.7 525.4,175.4 528.4,176.6 531.4,176.8 534.5,176.8 537.5,176.1 540.5,175.4 543.6,176.4 546.6,178.2 549.6,178.9 552.7,179.3 555.7,179.6 558.7,179.9 561.8,180.2 564.8,180.4 567.9,180.6 570.9,180.7 573.9,180.8 577.0,180.9 580.0,180.9" fill="none" stroke="#1e8ffc" stroke-width="1.4" stroke-linejoin="round"/>
<g fill="#fff" stroke="#1e8ffc" stroke-width="1.3"><circle cx="428.2" cy="181.1" r="1.65"/><circle cx="431.2" cy="181.1" r="1.65"/><circle cx="434.3" cy="181.0" r="1.65"/><circle cx="437.3" cy="180.8" r="1.65"/><circle cx="440.3" cy="180.5" r="1.65"/><circle cx="443.4" cy="179.9" r="1.65"/><circle cx="446.4" cy="177.5" r="1.65"/><circle cx="449.5" cy="174.0" r="1.65"/><circle cx="452.5" cy="171.9" r="1.65"/><circle cx="455.5" cy="158.6" r="1.65"/><circle cx="458.6" cy="145.8" r="1.65"/><circle cx="461.6" cy="126.2" r="1.65"/><circle cx="464.6" cy="111.9" r="1.65"/><circle cx="467.7" cy="94.3" r="1.65"/><circle cx="470.7" cy="88.1" r="1.65"/><circle cx="473.7" cy="78.5" r="1.65"/><circle cx="476.8" cy="78.1" r="1.65"/><circle cx="479.8" cy="93.9" r="1.65"/><circle cx="482.8" cy="104.9" r="1.65"/><circle cx="485.9" cy="108.9" r="1.65"/><circle cx="488.9" cy="125.5" r="1.65"/><circle cx="492.0" cy="146.5" r="1.65"/><circle cx="495.0" cy="165.2" r="1.65"/><circle cx="498.0" cy="169.1" r="1.65"/><circle cx="501.1" cy="170.6" r="1.65"/><circle cx="504.1" cy="170.6" r="1.65"/><circle cx="507.1" cy="171.9" r="1.65"/><circle cx="510.2" cy="172.2" r="1.65"/><circle cx="513.2" cy="169.8" r="1.65"/><circle cx="516.2" cy="171.9" r="1.65"/><circle cx="519.3" cy="174.0" r="1.65"/><circle cx="522.3" cy="174.7" r="1.65"/><circle cx="525.4" cy="175.4" r="1.65"/><circle cx="528.4" cy="176.6" r="1.65"/><circle cx="531.4" cy="176.8" r="1.65"/><circle cx="534.5" cy="176.8" r="1.65"/><circle cx="537.5" cy="176.1" r="1.65"/><circle cx="540.5" cy="175.4" r="1.65"/><circle cx="543.6" cy="176.4" r="1.65"/><circle cx="546.6" cy="178.2" r="1.65"/><circle cx="549.6" cy="178.9" r="1.65"/><circle cx="552.7" cy="179.3" r="1.65"/><circle cx="555.7" cy="179.6" r="1.65"/><circle cx="558.7" cy="179.9" r="1.65"/><circle cx="561.8" cy="180.2" r="1.65"/><circle cx="564.8" cy="180.4" r="1.65"/><circle cx="567.9" cy="180.6" r="1.65"/><circle cx="570.9" cy="180.7" r="1.65"/><circle cx="573.9" cy="180.8" r="1.65"/><circle cx="577.0" cy="180.9" r="1.65"/><circle cx="580.0" cy="180.9" r="1.65"/></g>
</g>
<g clip-path="url(#cp03)">
<polyline points="610.6,181.7 613.7,181.6 616.7,181.3 619.8,181.0 622.8,180.5 625.8,180.0 628.9,179.1 631.9,177.8 634.9,176.0 638.0,173.5 641.0,170.4 644.0,166.8 647.1,163.7 650.1,160.9 653.2,157.5 656.2,152.7 659.2,148.1 662.3,141.5 665.3,136.4 668.3,133.5 671.4,124.3 674.4,117.8 677.4,113.1 680.5,110.7 683.5,108.6 686.5,111.1 689.6,112.1 692.6,118.6 695.7,130.1 698.7,141.8 701.7,149.6 704.8,153.8 707.8,159.5 710.8,164.7 713.9,167.2 716.9,170.3 719.9,173.8 723.0,175.6 726.0,176.8 729.1,177.5 732.1,178.2 735.1,178.7 738.2,179.2 741.2,179.7 744.2,180.1 747.3,180.4 750.3,180.6 753.3,180.8 756.4,181.0 759.4,181.1 762.5,181.1" fill="none" stroke="#3bb273" stroke-width="1.45" stroke-linejoin="round"/>
<polyline points="610.6,181.1 613.7,179.8 616.7,178.7 619.8,177.6 622.8,175.8 625.8,172.3 628.9,165.0 631.9,153.0 634.9,136.4 638.0,114.2 641.0,92.0 644.0,72.4 647.1,55.1 650.1,52.1 653.2,62.8 656.2,79.0 659.2,98.9 662.3,129.9 665.3,150.6 668.3,163.9 671.4,170.2 674.4,173.6 677.4,175.0 680.5,175.4 683.5,176.1 686.5,177.2 689.6,177.7 692.6,176.6 695.7,179.0 698.7,180.4 701.7,180.9 704.8,181.0 707.8,181.1 710.8,181.2 713.9,181.2 716.9,181.3 719.9,181.4 723.0,181.4 726.0,181.4 729.1,181.5 732.1,181.5 735.1,181.6 738.2,181.6 741.2,181.6 744.2,181.6 747.3,181.6 750.3,181.6 753.3,181.6 756.4,181.6 759.4,181.6 762.5,181.7" fill="none" stroke="#1f1f87" stroke-width="1.45" stroke-linejoin="round"/>
<path d="M610.6,178.6V181.4M608.4,178.6h4.4M608.4,181.4h4.4M613.7,177.2V180.4M611.5,177.2h4.4M611.5,180.4h4.4M616.7,176.2V179.6M614.5,176.2h4.4M614.5,179.6h4.4M619.8,175.0V178.6M617.6,175.0h4.4M617.6,178.6h4.4M622.8,173.9V177.8M620.6,173.9h4.4M620.6,177.8h4.4M625.8,172.6V176.9M623.6,172.6h4.4M623.6,176.9h4.4M628.9,170.7V175.9M626.7,170.7h4.4M626.7,175.9h4.4M631.9,166.7V173.5M629.7,166.7h4.4M629.7,173.5h4.4M634.9,160.3V169.4M632.7,160.3h4.4M632.7,169.4h4.4M638.0,151.4V161.3M635.8,151.4h4.4M635.8,161.3h4.4M641.0,148.8V158.5M638.8,148.8h4.4M638.8,158.5h4.4M644.0,143.2V154.1M641.8,143.2h4.4M641.8,154.1h4.4M647.1,135.5V147.9M644.9,135.5h4.4M644.9,147.9h4.4M650.1,125.2V138.4M647.9,125.2h4.4M647.9,138.4h4.4M653.2,118.8V132.2M651.0,118.8h4.4M651.0,132.2h4.4M656.2,110.3V125.1M654.0,110.3h4.4M654.0,125.1h4.4M659.2,98.8V114.0M657.0,98.8h4.4M657.0,114.0h4.4M662.3,95.2V108.8M660.1,95.2h4.4M660.1,108.8h4.4M665.3,95.9V109.2M663.1,95.9h4.4M663.1,109.2h4.4M668.3,97.4V112.2M666.1,97.4h4.4M666.1,112.2h4.4M671.4,108.2V123.0M669.2,108.2h4.4M669.2,123.0h4.4M674.4,115.7V129.6M672.2,115.7h4.4M672.2,129.6h4.4M677.4,125.1V138.4M675.2,125.1h4.4M675.2,138.4h4.4M680.5,133.3V145.9M678.3,133.3h4.4M678.3,145.9h4.4M683.5,143.0V154.4M681.3,143.0h4.4M681.3,154.4h4.4M686.5,149.2V159.4M684.3,149.2h4.4M684.3,159.4h4.4M689.6,156.3V165.3M687.4,156.3h4.4M687.4,165.3h4.4M692.6,159.6V167.9M690.4,159.6h4.4M690.4,167.9h4.4M695.7,164.8V171.7M693.5,164.8h4.4M693.5,171.7h4.4M698.7,165.9V172.0M696.5,165.9h4.4M696.5,172.0h4.4M701.7,166.6V172.6M699.5,166.6h4.4M699.5,172.6h4.4M704.8,168.2V174.0M702.6,168.2h4.4M702.6,174.0h4.4M707.8,170.9V175.9M705.6,170.9h4.4M705.6,175.9h4.4M710.8,173.0V177.3M708.6,173.0h4.4M708.6,177.3h4.4M713.9,174.2V178.0M711.7,174.2h4.4M711.7,178.0h4.4M716.9,174.6V178.1M714.7,174.6h4.4M714.7,178.1h4.4M719.9,174.6V178.2M717.7,174.6h4.4M717.7,178.2h4.4M723.0,175.7V179.1M720.8,175.7h4.4M720.8,179.1h4.4M726.0,176.3V179.4M723.8,176.3h4.4M723.8,179.4h4.4M729.1,176.4V179.4M726.9,176.4h4.4M726.9,179.4h4.4M732.1,176.4V179.4M729.9,176.4h4.4M729.9,179.4h4.4M735.1,176.4V179.4M732.9,176.4h4.4M732.9,179.4h4.4M738.2,176.5V179.6M736.0,176.5h4.4M736.0,179.6h4.4M741.2,177.0V180.1M739.0,177.0h4.4M739.0,180.1h4.4M744.2,178.3V181.1M742.0,178.3h4.4M742.0,181.1h4.4M747.3,179.0V181.6M745.1,179.0h4.4M745.1,181.6h4.4M750.3,179.4V181.8M748.1,179.4h4.4M748.1,181.8h4.4M753.3,179.6V182.0M751.1,179.6h4.4M751.1,182.0h4.4M756.4,179.8V182.1M754.2,179.8h4.4M754.2,182.1h4.4M759.4,179.9V182.2M757.2,179.9h4.4M757.2,182.2h4.4M762.5,180.0V182.2M760.2,180.0h4.4M760.2,182.2h4.4" fill="none" stroke="#8c0a94" stroke-width="1.05"/>
<polyline points="610.6,180.0 613.7,178.8 616.7,177.9 619.8,176.8 622.8,175.8 625.8,174.8 628.9,173.3 631.9,170.1 634.9,164.8 638.0,156.4 641.0,153.6 644.0,148.7 647.1,141.7 650.1,131.8 653.2,125.5 656.2,117.7 659.2,106.4 662.3,102.0 665.3,102.6 668.3,104.8 671.4,115.6 674.4,122.7 677.4,131.8 680.5,139.6 683.5,148.7 686.5,154.3 689.6,160.8 692.6,163.7 695.7,168.2 698.7,168.9 701.7,169.6 704.8,171.1 707.8,173.4 710.8,175.1 713.9,176.1 716.9,176.4 719.9,176.4 723.0,177.4 726.0,177.9 729.1,177.9 732.1,177.9 735.1,177.9 738.2,178.0 741.2,178.6 744.2,179.7 747.3,180.3 750.3,180.6 753.3,180.8 756.4,181.0 759.4,181.1 762.5,181.1" fill="none" stroke="#8c0a94" stroke-width="1.4" stroke-linejoin="round"/>
<g fill="#fff" stroke="#8c0a94" stroke-width="1.3"><circle cx="610.6" cy="180.0" r="1.65"/><circle cx="613.7" cy="178.8" r="1.65"/><circle cx="616.7" cy="177.9" r="1.65"/><circle cx="619.8" cy="176.8" r="1.65"/><circle cx="622.8" cy="175.8" r="1.65"/><circle cx="625.8" cy="174.8" r="1.65"/><circle cx="628.9" cy="173.3" r="1.65"/><circle cx="631.9" cy="170.1" r="1.65"/><circle cx="634.9" cy="164.8" r="1.65"/><circle cx="638.0" cy="156.4" r="1.65"/><circle cx="641.0" cy="153.6" r="1.65"/><circle cx="644.0" cy="148.7" r="1.65"/><circle cx="647.1" cy="141.7" r="1.65"/><circle cx="650.1" cy="131.8" r="1.65"/><circle cx="653.2" cy="125.5" r="1.65"/><circle cx="656.2" cy="117.7" r="1.65"/><circle cx="659.2" cy="106.4" r="1.65"/><circle cx="662.3" cy="102.0" r="1.65"/><circle cx="665.3" cy="102.6" r="1.65"/><circle cx="668.3" cy="104.8" r="1.65"/><circle cx="671.4" cy="115.6" r="1.65"/><circle cx="674.4" cy="122.7" r="1.65"/><circle cx="677.4" cy="131.8" r="1.65"/><circle cx="680.5" cy="139.6" r="1.65"/><circle cx="683.5" cy="148.7" r="1.65"/><circle cx="686.5" cy="154.3" r="1.65"/><circle cx="689.6" cy="160.8" r="1.65"/><circle cx="692.6" cy="163.7" r="1.65"/><circle cx="695.7" cy="168.2" r="1.65"/><circle cx="698.7" cy="168.9" r="1.65"/><circle cx="701.7" cy="169.6" r="1.65"/><circle cx="704.8" cy="171.1" r="1.65"/><circle cx="707.8" cy="173.4" r="1.65"/><circle cx="710.8" cy="175.1" r="1.65"/><circle cx="713.9" cy="176.1" r="1.65"/><circle cx="716.9" cy="176.4" r="1.65"/><circle cx="719.9" cy="176.4" r="1.65"/><circle cx="723.0" cy="177.4" r="1.65"/><circle cx="726.0" cy="177.9" r="1.65"/><circle cx="729.1" cy="177.9" r="1.65"/><circle cx="732.1" cy="177.9" r="1.65"/><circle cx="735.1" cy="177.9" r="1.65"/><circle cx="738.2" cy="178.0" r="1.65"/><circle cx="741.2" cy="178.6" r="1.65"/><circle cx="744.2" cy="179.7" r="1.65"/><circle cx="747.3" cy="180.3" r="1.65"/><circle cx="750.3" cy="180.6" r="1.65"/><circle cx="753.3" cy="180.8" r="1.65"/><circle cx="756.4" cy="181.0" r="1.65"/><circle cx="759.4" cy="181.1" r="1.65"/><circle cx="762.5" cy="181.1" r="1.65"/></g>
<path d="M610.6,179.7V182.0M608.4,179.7h4.4M608.4,182.0h4.4M613.7,179.5V181.9M611.5,179.5h4.4M611.5,181.9h4.4M616.7,179.2V181.7M614.5,179.2h4.4M614.5,181.7h4.4M619.8,178.8V181.5M617.6,178.8h4.4M617.6,181.5h4.4M622.8,177.3V180.5M620.6,177.3h4.4M620.6,180.5h4.4M625.8,175.3V179.2M623.6,175.3h4.4M623.6,179.2h4.4M628.9,172.1V177.3M626.7,172.1h4.4M626.7,177.3h4.4M631.9,165.2V173.1M629.7,165.2h4.4M629.7,173.1h4.4M634.9,156.1V166.6M632.7,156.1h4.4M632.7,166.6h4.4M638.0,143.6V156.4M635.8,143.6h4.4M635.8,156.4h4.4M641.0,128.3V143.6M638.8,128.3h4.4M638.8,143.6h4.4M644.0,108.5V126.9M641.8,108.5h4.4M641.8,126.9h4.4M647.1,84.3V104.1M644.9,84.3h4.4M644.9,104.1h4.4M650.1,67.9V86.7M647.9,67.9h4.4M647.9,86.7h4.4M653.2,59.7V75.1M651.0,59.7h4.4M651.0,75.1h4.4M656.2,70.1V87.1M654.0,70.1h4.4M654.0,87.1h4.4M659.2,74.7V91.8M657.0,74.7h4.4M657.0,91.8h4.4M662.3,87.7V106.4M660.1,87.7h4.4M660.1,106.4h4.4M665.3,109.4V126.0M663.1,109.4h4.4M663.1,126.0h4.4M668.3,119.9V135.3M666.1,119.9h4.4M666.1,135.3h4.4M671.4,139.1V152.5M669.2,139.1h4.4M669.2,152.5h4.4M674.4,148.4V158.9M672.2,148.4h4.4M672.2,158.9h4.4M677.4,154.4V164.1M675.2,154.4h4.4M675.2,164.1h4.4M680.5,161.5V169.5M678.3,161.5h4.4M678.3,169.5h4.4M683.5,162.5V170.0M681.3,162.5h4.4M681.3,170.0h4.4M686.5,167.5V173.7M684.3,167.5h4.4M684.3,173.7h4.4M689.6,169.3V174.5M687.4,169.3h4.4M687.4,174.5h4.4M692.6,170.0V175.2M690.4,170.0h4.4M690.4,175.2h4.4M695.7,173.5V177.7M693.5,173.5h4.4M693.5,177.7h4.4M698.7,174.2V178.2M696.5,174.2h4.4M696.5,178.2h4.4M701.7,176.9V180.2M699.5,176.9h4.4M699.5,180.2h4.4M704.8,177.8V180.6M702.6,177.8h4.4M702.6,180.6h4.4M707.8,178.2V180.9M705.6,178.2h4.4M705.6,180.9h4.4M710.8,178.7V181.3M708.6,178.7h4.4M708.6,181.3h4.4M713.9,179.1V181.6M711.7,179.1h4.4M711.7,181.6h4.4M716.9,179.4V181.8M714.7,179.4h4.4M714.7,181.8h4.4M719.9,179.4V181.8M717.7,179.4h4.4M717.7,181.8h4.4M723.0,179.5V181.8M720.8,179.5h4.4M720.8,181.8h4.4M726.0,179.5V181.9M723.8,179.5h4.4M723.8,181.9h4.4M729.1,179.6V181.9M726.9,179.6h4.4M726.9,181.9h4.4M732.1,179.6V181.9M729.9,179.6h4.4M729.9,181.9h4.4M735.1,179.6V181.9M732.9,179.6h4.4M732.9,181.9h4.4M738.2,179.6V182.0M736.0,179.6h4.4M736.0,182.0h4.4M741.2,179.7V182.0M739.0,179.7h4.4M739.0,182.0h4.4M744.2,179.7V182.0M742.0,179.7h4.4M742.0,182.0h4.4M747.3,179.7V182.0M745.1,179.7h4.4M745.1,182.0h4.4M750.3,179.7V182.0M748.1,179.7h4.4M748.1,182.0h4.4M753.3,179.7V182.0M751.1,179.7h4.4M751.1,182.0h4.4M756.4,179.7V182.0M754.2,179.7h4.4M754.2,182.0h4.4M759.4,179.7V182.0M757.2,179.7h4.4M757.2,182.0h4.4M762.5,179.7V182.0M760.2,179.7h4.4M760.2,182.0h4.4" fill="none" stroke="#1e8ffc" stroke-width="1.05"/>
<polyline points="610.6,180.9 613.7,180.7 616.7,180.5 619.8,180.1 622.8,178.9 625.8,177.3 628.9,174.7 631.9,169.1 634.9,161.3 638.0,150.0 641.0,136.0 644.0,117.7 647.1,94.2 650.1,77.3 653.2,67.4 656.2,78.6 659.2,83.2 662.3,97.1 665.3,117.7 668.3,127.6 671.4,145.8 674.4,153.6 677.4,159.2 680.5,165.5 683.5,166.3 686.5,170.6 689.6,171.9 692.6,172.6 695.7,175.6 698.7,176.2 701.7,178.6 704.8,179.2 707.8,179.6 710.8,180.0 713.9,180.4 716.9,180.6 719.9,180.6 723.0,180.6 726.0,180.7 729.1,180.7 732.1,180.8 735.1,180.8 738.2,180.8 741.2,180.8 744.2,180.8 747.3,180.9 750.3,180.9 753.3,180.9 756.4,180.9 759.4,180.9 762.5,180.9" fill="none" stroke="#1e8ffc" stroke-width="1.4" stroke-linejoin="round"/>
<g fill="#fff" stroke="#1e8ffc" stroke-width="1.3"><circle cx="610.6" cy="180.9" r="1.65"/><circle cx="613.7" cy="180.7" r="1.65"/><circle cx="616.7" cy="180.5" r="1.65"/><circle cx="619.8" cy="180.1" r="1.65"/><circle cx="622.8" cy="178.9" r="1.65"/><circle cx="625.8" cy="177.3" r="1.65"/><circle cx="628.9" cy="174.7" r="1.65"/><circle cx="631.9" cy="169.1" r="1.65"/><circle cx="634.9" cy="161.3" r="1.65"/><circle cx="638.0" cy="150.0" r="1.65"/><circle cx="641.0" cy="136.0" r="1.65"/><circle cx="644.0" cy="117.7" r="1.65"/><circle cx="647.1" cy="94.2" r="1.65"/><circle cx="650.1" cy="77.3" r="1.65"/><circle cx="653.2" cy="67.4" r="1.65"/><circle cx="656.2" cy="78.6" r="1.65"/><circle cx="659.2" cy="83.2" r="1.65"/><circle cx="662.3" cy="97.1" r="1.65"/><circle cx="665.3" cy="117.7" r="1.65"/><circle cx="668.3" cy="127.6" r="1.65"/><circle cx="671.4" cy="145.8" r="1.65"/><circle cx="674.4" cy="153.6" r="1.65"/><circle cx="677.4" cy="159.2" r="1.65"/><circle cx="680.5" cy="165.5" r="1.65"/><circle cx="683.5" cy="166.3" r="1.65"/><circle cx="686.5" cy="170.6" r="1.65"/><circle cx="689.6" cy="171.9" r="1.65"/><circle cx="692.6" cy="172.6" r="1.65"/><circle cx="695.7" cy="175.6" r="1.65"/><circle cx="698.7" cy="176.2" r="1.65"/><circle cx="701.7" cy="178.6" r="1.65"/><circle cx="704.8" cy="179.2" r="1.65"/><circle cx="707.8" cy="179.6" r="1.65"/><circle cx="710.8" cy="180.0" r="1.65"/><circle cx="713.9" cy="180.4" r="1.65"/><circle cx="716.9" cy="180.6" r="1.65"/><circle cx="719.9" cy="180.6" r="1.65"/><circle cx="723.0" cy="180.6" r="1.65"/><circle cx="726.0" cy="180.7" r="1.65"/><circle cx="729.1" cy="180.7" r="1.65"/><circle cx="732.1" cy="180.8" r="1.65"/><circle cx="735.1" cy="180.8" r="1.65"/><circle cx="738.2" cy="180.8" r="1.65"/><circle cx="741.2" cy="180.8" r="1.65"/><circle cx="744.2" cy="180.8" r="1.65"/><circle cx="747.3" cy="180.9" r="1.65"/><circle cx="750.3" cy="180.9" r="1.65"/><circle cx="753.3" cy="180.9" r="1.65"/><circle cx="756.4" cy="180.9" r="1.65"/><circle cx="759.4" cy="180.9" r="1.65"/><circle cx="762.5" cy="180.9" r="1.65"/></g>
</g>
<g clip-path="url(#cp10)">
<polyline points="63.3,475.9 66.3,475.2 69.4,474.4 72.4,473.5 75.4,472.5 78.5,471.4 81.5,470.2 84.6,468.9 87.6,467.6 90.6,466.4 93.7,465.6 96.7,466.2 99.7,467.0 102.8,467.0 105.8,467.0 108.8,467.5 111.9,469.4 114.9,470.7 117.9,471.0 121.0,471.7 124.0,472.6 127.1,472.1 130.1,470.7 133.1,468.4 136.2,465.7 139.2,459.1 142.2,443.5 145.3,414.7 148.3,383.9 151.3,348.0 154.4,322.9 157.4,316.8 160.5,338.1 163.5,370.1 166.5,429.1 169.6,454.5 172.6,465.7 175.6,471.3 178.7,474.3 181.7,474.8 184.7,475.1 187.8,475.3 190.8,475.5 193.8,475.7 196.9,475.8 199.9,475.9 203.0,476.0 206.0,476.1 209.0,476.1 212.1,476.1 215.1,476.1" fill="none" stroke="#3bb273" stroke-width="1.45" stroke-linejoin="round"/>
<polyline points="63.3,476.2 66.3,476.2 69.4,476.2 72.4,476.2 75.4,476.2 78.5,476.2 81.5,476.2 84.6,476.2 87.6,476.2 90.6,476.2 93.7,476.2 96.7,476.2 99.7,476.1 102.8,476.1 105.8,476.1 108.8,476.1 111.9,476.1 114.9,476.0 117.9,476.0 121.0,475.9 124.0,475.9 127.1,474.4 130.1,472.1 133.1,470.2 136.2,464.3 139.2,446.7 142.2,406.7 145.3,372.6 148.3,336.3 151.3,308.5 154.4,303.5 157.4,331.0 160.5,368.3 163.5,417.2 166.5,446.8 169.6,461.6 172.6,469.2 175.6,473.5 178.7,474.9 181.7,475.5 184.7,475.6 187.8,475.7 190.8,475.9 193.8,476.0 196.9,476.0 199.9,476.1 203.0,476.2 206.0,476.2 209.0,476.2 212.1,476.2 215.1,476.2" fill="none" stroke="#1f1f87" stroke-width="1.45" stroke-linejoin="round"/>
<path d="M63.3,472.2V475.2M61.1,472.2h4.4M61.1,475.2h4.4M66.3,471.0V474.3M64.1,471.0h4.4M64.1,474.3h4.4M69.4,469.9V473.4M67.2,469.9h4.4M67.2,473.4h4.4M72.4,468.6V472.4M70.2,468.6h4.4M70.2,472.4h4.4M75.4,467.6V471.6M73.2,467.6h4.4M73.2,471.6h4.4M78.5,466.3V470.7M76.3,466.3h4.4M76.3,470.7h4.4M81.5,464.5V469.5M79.3,464.5h4.4M79.3,469.5h4.4M84.6,462.1V467.7M82.4,462.1h4.4M82.4,467.7h4.4M87.6,460.2V466.4M85.4,460.2h4.4M85.4,466.4h4.4M90.6,458.1V464.7M88.4,458.1h4.4M88.4,464.7h4.4M93.7,458.0V464.3M91.5,458.0h4.4M91.5,464.3h4.4M96.7,457.6V463.9M94.5,457.6h4.4M94.5,463.9h4.4M99.7,457.9V464.2M97.5,457.9h4.4M97.5,464.2h4.4M102.8,458.3V464.5M100.6,458.3h4.4M100.6,464.5h4.4M105.8,457.4V464.0M103.6,457.4h4.4M103.6,464.0h4.4M108.8,456.3V463.0M106.6,456.3h4.4M106.6,463.0h4.4M111.9,455.9V462.5M109.7,455.9h4.4M109.7,462.5h4.4M114.9,457.5V463.8M112.7,457.5h4.4M112.7,463.8h4.4M117.9,455.7V462.7M115.7,455.7h4.4M115.7,462.7h4.4M121.0,453.7V460.5M118.8,453.7h4.4M118.8,460.5h4.4M124.0,455.9V462.5M121.8,455.9h4.4M121.8,462.5h4.4M127.1,453.4V460.8M124.9,453.4h4.4M124.9,460.8h4.4M130.1,451.2V458.9M127.9,451.2h4.4M127.9,458.9h4.4M133.1,448.2V456.4M130.9,448.2h4.4M130.9,456.4h4.4M136.2,445.2V453.7M134.0,445.2h4.4M134.0,453.7h4.4M139.2,442.1V451.3M137.0,442.1h4.4M137.0,451.3h4.4M142.2,435.0V446.5M140.0,435.0h4.4M140.0,446.5h4.4M145.3,419.3V433.1M143.1,419.3h4.4M143.1,433.1h4.4M148.3,405.7V421.1M146.1,405.7h4.4M146.1,421.1h4.4M151.3,384.8V402.8M149.1,384.8h4.4M149.1,402.8h4.4M154.4,363.8V380.0M152.2,363.8h4.4M152.2,380.0h4.4M157.4,366.9V381.5M155.2,366.9h4.4M155.2,381.5h4.4M160.5,373.0V390.3M158.3,373.0h4.4M158.3,390.3h4.4M163.5,395.6V414.5M161.3,395.6h4.4M161.3,414.5h4.4M166.5,427.1V442.6M164.3,427.1h4.4M164.3,442.6h4.4M169.6,444.3V455.4M167.4,444.3h4.4M167.4,455.4h4.4M172.6,454.3V463.5M170.4,454.3h4.4M170.4,463.5h4.4M175.6,464.8V471.1M173.4,464.8h4.4M173.4,471.1h4.4M178.7,472.0V475.6M176.5,472.0h4.4M176.5,475.6h4.4M181.7,473.5V476.2M179.5,473.5h4.4M179.5,476.2h4.4M184.7,474.2V476.6M182.5,474.2h4.4M182.5,476.6h4.4M187.8,474.4V476.7M185.6,474.4h4.4M185.6,476.7h4.4M190.8,474.5V476.8M188.6,474.5h4.4M188.6,476.8h4.4M193.8,474.7V476.9M191.6,474.7h4.4M191.6,476.9h4.4M196.9,474.8V477.0M194.7,474.8h4.4M194.7,477.0h4.4M199.9,474.9V477.0M197.7,474.9h4.4M197.7,477.0h4.4M203.0,474.9V477.1M200.8,474.9h4.4M200.8,477.1h4.4M206.0,475.0V477.1M203.8,475.0h4.4M203.8,477.1h4.4M209.0,475.0V477.2M206.8,475.0h4.4M206.8,477.2h4.4M212.1,475.1V477.2M209.9,475.1h4.4M209.9,477.2h4.4M215.1,475.1V477.2M212.9,475.1h4.4M212.9,477.2h4.4" fill="none" stroke="#8c0a94" stroke-width="1.05"/>
<polyline points="63.3,473.7 66.3,472.6 69.4,471.7 72.4,470.5 75.4,469.6 78.5,468.5 81.5,467.0 84.6,464.9 87.6,463.3 90.6,461.4 93.7,461.2 96.7,460.8 99.7,461.0 102.8,461.4 105.8,460.7 108.8,459.6 111.9,459.2 114.9,460.6 117.9,459.2 121.0,457.1 124.0,459.2 127.1,457.1 130.1,455.0 133.1,452.3 136.2,449.4 139.2,446.7 142.2,440.7 145.3,426.2 148.3,413.4 151.3,393.8 154.4,371.9 157.4,374.2 160.5,381.7 163.5,405.0 166.5,434.8 169.6,449.9 172.6,458.9 175.6,468.0 178.7,473.8 181.7,474.9 184.7,475.4 187.8,475.5 190.8,475.7 193.8,475.8 196.9,475.9 199.9,476.0 203.0,476.0 206.0,476.1 209.0,476.1 212.1,476.1 215.1,476.1" fill="none" stroke="#8c0a94" stroke-width="1.4" stroke-linejoin="round"/>
<g fill="#fff" stroke="#8c0a94" stroke-width="1.3"><circle cx="63.3" cy="473.7" r="1.65"/><circle cx="66.3" cy="472.6" r="1.65"/><circle cx="69.4" cy="471.7" r="1.65"/><circle cx="72.4" cy="470.5" r="1.65"/><circle cx="75.4" cy="469.6" r="1.65"/><circle cx="78.5" cy="468.5" r="1.65"/><circle cx="81.5" cy="467.0" r="1.65"/><circle cx="84.6" cy="464.9" r="1.65"/><circle cx="87.6" cy="463.3" r="1.65"/><circle cx="90.6" cy="461.4" r="1.65"/><circle cx="93.7" cy="461.2" r="1.65"/><circle cx="96.7" cy="460.8" r="1.65"/><circle cx="99.7" cy="461.0" r="1.65"/><circle cx="102.8" cy="461.4" r="1.65"/><circle cx="105.8" cy="460.7" r="1.65"/><circle cx="108.8" cy="459.6" r="1.65"/><circle cx="111.9" cy="459.2" r="1.65"/><circle cx="114.9" cy="460.6" r="1.65"/><circle cx="117.9" cy="459.2" r="1.65"/><circle cx="121.0" cy="457.1" r="1.65"/><circle cx="124.0" cy="459.2" r="1.65"/><circle cx="127.1" cy="457.1" r="1.65"/><circle cx="130.1" cy="455.0" r="1.65"/><circle cx="133.1" cy="452.3" r="1.65"/><circle cx="136.2" cy="449.4" r="1.65"/><circle cx="139.2" cy="446.7" r="1.65"/><circle cx="142.2" cy="440.7" r="1.65"/><circle cx="145.3" cy="426.2" r="1.65"/><circle cx="148.3" cy="413.4" r="1.65"/><circle cx="151.3" cy="393.8" r="1.65"/><circle cx="154.4" cy="371.9" r="1.65"/><circle cx="157.4" cy="374.2" r="1.65"/><circle cx="160.5" cy="381.7" r="1.65"/><circle cx="163.5" cy="405.0" r="1.65"/><circle cx="166.5" cy="434.8" r="1.65"/><circle cx="169.6" cy="449.9" r="1.65"/><circle cx="172.6" cy="458.9" r="1.65"/><circle cx="175.6" cy="468.0" r="1.65"/><circle cx="178.7" cy="473.8" r="1.65"/><circle cx="181.7" cy="474.9" r="1.65"/><circle cx="184.7" cy="475.4" r="1.65"/><circle cx="187.8" cy="475.5" r="1.65"/><circle cx="190.8" cy="475.7" r="1.65"/><circle cx="193.8" cy="475.8" r="1.65"/><circle cx="196.9" cy="475.9" r="1.65"/><circle cx="199.9" cy="476.0" r="1.65"/><circle cx="203.0" cy="476.0" r="1.65"/><circle cx="206.0" cy="476.1" r="1.65"/><circle cx="209.0" cy="476.1" r="1.65"/><circle cx="212.1" cy="476.1" r="1.65"/><circle cx="215.1" cy="476.1" r="1.65"/></g>
<path d="M63.3,474.6V476.8M61.1,474.6h4.4M61.1,476.8h4.4M66.3,474.6V476.8M64.1,474.6h4.4M64.1,476.8h4.4M69.4,474.5V476.7M67.2,474.5h4.4M67.2,476.7h4.4M72.4,474.5V476.7M70.2,474.5h4.4M70.2,476.7h4.4M75.4,474.4V476.7M73.2,474.4h4.4M73.2,476.7h4.4M78.5,474.3V476.6M76.3,474.3h4.4M76.3,476.6h4.4M81.5,474.2V476.5M79.3,474.2h4.4M79.3,476.5h4.4M84.6,474.1V476.4M82.4,474.1h4.4M82.4,476.4h4.4M87.6,473.9V476.3M85.4,473.9h4.4M85.4,476.3h4.4M90.6,473.7V476.2M88.4,473.7h4.4M88.4,476.2h4.4M93.7,473.4V476.0M91.5,473.4h4.4M91.5,476.0h4.4M96.7,472.5V475.3M94.5,472.5h4.4M94.5,475.3h4.4M99.7,471.9V474.7M97.5,471.9h4.4M97.5,474.7h4.4M102.8,471.9V474.6M100.6,471.9h4.4M100.6,474.6h4.4M105.8,471.9V474.7M103.6,471.9h4.4M103.6,474.7h4.4M108.8,472.5V475.3M106.6,472.5h4.4M106.6,475.3h4.4M111.9,473.0V475.5M109.7,473.0h4.4M109.7,475.5h4.4M114.9,473.0V475.5M112.7,473.0h4.4M112.7,475.5h4.4M117.9,473.0V475.5M115.7,473.0h4.4M115.7,475.5h4.4M121.0,472.7V475.4M118.8,472.7h4.4M118.8,475.4h4.4M124.0,471.5V474.7M121.8,471.5h4.4M121.8,474.7h4.4M127.1,469.2V473.1M124.9,469.2h4.4M124.9,473.1h4.4M130.1,466.0V470.8M127.9,466.0h4.4M127.9,470.8h4.4M133.1,461.7V468.1M130.9,461.7h4.4M130.9,468.1h4.4M136.2,452.7V461.6M134.0,452.7h4.4M134.0,461.6h4.4M139.2,441.7V453.0M137.0,441.7h4.4M137.0,453.0h4.4M142.2,422.5V437.4M140.0,422.5h4.4M140.0,437.4h4.4M145.3,395.4V413.8M143.1,395.4h4.4M143.1,413.8h4.4M148.3,363.2V385.4M146.1,363.2h4.4M146.1,385.4h4.4M151.3,322.7V345.7M149.1,322.7h4.4M149.1,345.7h4.4M154.4,303.3V320.7M152.2,303.3h4.4M152.2,320.7h4.4M157.4,309.5V331.4M155.2,309.5h4.4M155.2,331.4h4.4M160.5,350.1V373.7M158.3,350.1h4.4M158.3,373.7h4.4M163.5,386.8V407.5M161.3,386.8h4.4M161.3,407.5h4.4M166.5,422.4V439.1M164.3,422.4h4.4M164.3,439.1h4.4M169.6,448.2V459.6M167.4,448.2h4.4M167.4,459.6h4.4M172.6,460.2V467.4M170.4,460.2h4.4M170.4,467.4h4.4M175.6,465.4V470.5M173.4,465.4h4.4M173.4,470.5h4.4M178.7,469.7V473.6M176.5,469.7h4.4M176.5,473.6h4.4M181.7,472.3V475.3M179.5,472.3h4.4M179.5,475.3h4.4M184.7,473.6V476.1M182.5,473.6h4.4M182.5,476.1h4.4M187.8,473.9V476.3M185.6,473.9h4.4M185.6,476.3h4.4M190.8,474.0V476.3M188.6,474.0h4.4M188.6,476.3h4.4M193.8,474.0V476.4M191.6,474.0h4.4M191.6,476.4h4.4M196.9,474.1V476.4M194.7,474.1h4.4M194.7,476.4h4.4M199.9,474.1V476.4M197.7,474.1h4.4M197.7,476.4h4.4M203.0,474.2V476.5M200.8,474.2h4.4M200.8,476.5h4.4M206.0,474.2V476.5M203.8,474.2h4.4M203.8,476.5h4.4M209.0,474.2V476.5M206.8,474.2h4.4M206.8,476.5h4.4M212.1,474.2V476.5M209.9,474.2h4.4M209.9,476.5h4.4M215.1,474.2V476.5M212.9,474.2h4.4M212.9,476.5h4.4" fill="none" stroke="#1e8ffc" stroke-width="1.05"/>
<polyline points="63.3,475.7 66.3,475.7 69.4,475.6 72.4,475.6 75.4,475.5 78.5,475.5 81.5,475.4 84.6,475.3 87.6,475.1 90.6,474.9 93.7,474.7 96.7,473.9 99.7,473.3 102.8,473.3 105.8,473.3 108.8,473.9 111.9,474.3 114.9,474.3 117.9,474.2 121.0,474.0 124.0,473.1 127.1,471.2 130.1,468.4 133.1,464.9 136.2,457.1 139.2,447.3 142.2,430.0 145.3,404.6 148.3,374.3 151.3,334.2 154.4,312.0 157.4,320.5 160.5,361.9 163.5,397.1 166.5,430.8 169.6,453.9 172.6,463.8 175.6,468.0 178.7,471.6 181.7,473.8 184.7,474.8 187.8,475.1 190.8,475.1 193.8,475.2 196.9,475.2 199.9,475.3 203.0,475.3 206.0,475.3 209.0,475.3 212.1,475.4 215.1,475.4" fill="none" stroke="#1e8ffc" stroke-width="1.4" stroke-linejoin="round"/>
<g fill="#fff" stroke="#1e8ffc" stroke-width="1.3"><circle cx="63.3" cy="475.7" r="1.65"/><circle cx="66.3" cy="475.7" r="1.65"/><circle cx="69.4" cy="475.6" r="1.65"/><circle cx="72.4" cy="475.6" r="1.65"/><circle cx="75.4" cy="475.5" r="1.65"/><circle cx="78.5" cy="475.5" r="1.65"/><circle cx="81.5" cy="475.4" r="1.65"/><circle cx="84.6" cy="475.3" r="1.65"/><circle cx="87.6" cy="475.1" r="1.65"/><circle cx="90.6" cy="474.9" r="1.65"/><circle cx="93.7" cy="474.7" r="1.65"/><circle cx="96.7" cy="473.9" r="1.65"/><circle cx="99.7" cy="473.3" r="1.65"/><circle cx="102.8" cy="473.3" r="1.65"/><circle cx="105.8" cy="473.3" r="1.65"/><circle cx="108.8" cy="473.9" r="1.65"/><circle cx="111.9" cy="474.3" r="1.65"/><circle cx="114.9" cy="474.3" r="1.65"/><circle cx="117.9" cy="474.2" r="1.65"/><circle cx="121.0" cy="474.0" r="1.65"/><circle cx="124.0" cy="473.1" r="1.65"/><circle cx="127.1" cy="471.2" r="1.65"/><circle cx="130.1" cy="468.4" r="1.65"/><circle cx="133.1" cy="464.9" r="1.65"/><circle cx="136.2" cy="457.1" r="1.65"/><circle cx="139.2" cy="447.3" r="1.65"/><circle cx="142.2" cy="430.0" r="1.65"/><circle cx="145.3" cy="404.6" r="1.65"/><circle cx="148.3" cy="374.3" r="1.65"/><circle cx="151.3" cy="334.2" r="1.65"/><circle cx="154.4" cy="312.0" r="1.65"/><circle cx="157.4" cy="320.5" r="1.65"/><circle cx="160.5" cy="361.9" r="1.65"/><circle cx="163.5" cy="397.1" r="1.65"/><circle cx="166.5" cy="430.8" r="1.65"/><circle cx="169.6" cy="453.9" r="1.65"/><circle cx="172.6" cy="463.8" r="1.65"/><circle cx="175.6" cy="468.0" r="1.65"/><circle cx="178.7" cy="471.6" r="1.65"/><circle cx="181.7" cy="473.8" r="1.65"/><circle cx="184.7" cy="474.8" r="1.65"/><circle cx="187.8" cy="475.1" r="1.65"/><circle cx="190.8" cy="475.1" r="1.65"/><circle cx="193.8" cy="475.2" r="1.65"/><circle cx="196.9" cy="475.2" r="1.65"/><circle cx="199.9" cy="475.3" r="1.65"/><circle cx="203.0" cy="475.3" r="1.65"/><circle cx="206.0" cy="475.3" r="1.65"/><circle cx="209.0" cy="475.3" r="1.65"/><circle cx="212.1" cy="475.4" r="1.65"/><circle cx="215.1" cy="475.4" r="1.65"/></g>
</g>
<g clip-path="url(#cp11)">
<polyline points="245.8,476.5 248.8,476.4 251.8,476.2 254.9,476.0 257.9,475.7 260.9,475.3 264.0,474.8 267.0,474.2 270.0,473.2 273.1,471.5 276.1,469.0 279.1,467.8 282.2,467.8 285.2,467.1 288.3,466.9 291.3,468.4 294.3,468.8 297.4,467.2 300.4,463.9 303.4,458.5 306.5,449.0 309.5,435.2 312.5,413.0 315.6,382.5 318.6,342.7 321.6,323.8 324.7,323.7 327.7,342.6 330.8,378.5 333.8,424.8 336.8,453.9 339.9,465.5 342.9,471.2 345.9,473.9 349.0,475.5 352.0,475.7 355.0,475.8 358.1,475.9 361.1,476.0 364.2,476.1 367.2,476.2 370.2,476.2 373.3,476.3 376.3,476.3 379.3,476.4 382.4,476.4 385.4,476.4 388.4,476.4 391.5,476.4 394.5,476.4 397.6,476.5" fill="none" stroke="#3bb273" stroke-width="1.45" stroke-linejoin="round"/>
<polyline points="245.8,476.5 248.8,476.4 251.8,476.4 254.9,476.3 257.9,476.3 260.9,476.1 264.0,476.0 267.0,475.8 270.0,475.6 273.1,475.4 276.1,474.5 279.1,472.2 282.2,466.7 285.2,458.4 288.3,447.3 291.3,430.7 294.3,414.7 297.4,396.4 300.4,373.3 303.4,352.2 306.5,343.0 309.5,354.4 312.5,375.9 315.6,398.0 318.6,416.3 321.6,435.7 324.7,453.9 327.7,468.6 330.8,473.7 333.8,475.2 336.8,475.7 339.9,475.8 342.9,475.9 345.9,476.0 349.0,476.0 352.0,476.1 355.0,476.2 358.1,476.2 361.1,476.2 364.2,476.3 367.2,476.3 370.2,476.4 373.3,476.4 376.3,476.4 379.3,476.4 382.4,476.4 385.4,476.4 388.4,476.4 391.5,476.4 394.5,476.4 397.6,476.5" fill="none" stroke="#1f1f87" stroke-width="1.45" stroke-linejoin="round"/>
<path d="M245.8,474.8V477.0M243.6,474.8h4.4M243.6,477.0h4.4M248.8,474.3V476.6M246.6,474.3h4.4M246.6,476.6h4.4M251.8,473.6V476.0M249.6,473.6h4.4M249.6,476.0h4.4M254.9,472.9V475.5M252.7,472.9h4.4M252.7,475.5h4.4M257.9,472.0V474.9M255.7,472.0h4.4M255.7,474.9h4.4M260.9,469.6V473.2M258.7,469.6h4.4M258.7,473.2h4.4M264.0,465.7V470.9M261.8,465.7h4.4M261.8,470.9h4.4M267.0,454.9V463.1M264.8,454.9h4.4M264.8,463.1h4.4M270.0,443.3V452.9M267.8,443.3h4.4M267.8,452.9h4.4M273.1,431.4V442.2M270.9,431.4h4.4M270.9,442.2h4.4M276.1,417.0V429.6M273.9,417.0h4.4M273.9,429.6h4.4M279.1,397.2V411.4M276.9,397.2h4.4M276.9,411.4h4.4M282.2,380.8V395.0M280.0,380.8h4.4M280.0,395.0h4.4M285.2,369.3V383.0M283.0,369.3h4.4M283.0,383.0h4.4M288.3,362.1V375.3M286.1,362.1h4.4M286.1,375.3h4.4M291.3,357.8V369.7M289.1,357.8h4.4M289.1,369.7h4.4M294.3,361.6V375.8M292.1,361.6h4.4M292.1,375.8h4.4M297.4,376.8V391.6M295.2,376.8h4.4M295.2,391.6h4.4M300.4,393.3V407.3M298.2,393.3h4.4M298.2,407.3h4.4M303.4,410.1V422.8M301.2,410.1h4.4M301.2,422.8h4.4M306.5,423.8V436.3M304.3,423.8h4.4M304.3,436.3h4.4M309.5,446.1V456.3M307.3,446.1h4.4M307.3,456.3h4.4M312.5,456.1V463.8M310.3,456.1h4.4M310.3,463.8h4.4M315.6,465.1V470.4M313.4,465.1h4.4M313.4,470.4h4.4M318.6,470.6V474.2M316.4,470.6h4.4M316.4,474.2h4.4M321.6,473.1V475.8M319.4,473.1h4.4M319.4,475.8h4.4M324.7,473.9V476.3M322.5,473.9h4.4M322.5,476.3h4.4M327.7,474.3V476.6M325.5,474.3h4.4M325.5,476.6h4.4M330.8,474.5V476.7M328.6,474.5h4.4M328.6,476.7h4.4M333.8,474.6V476.7M331.6,474.6h4.4M331.6,476.7h4.4M336.8,474.6V476.8M334.6,474.6h4.4M334.6,476.8h4.4M339.9,474.7V476.8M337.7,474.7h4.4M337.7,476.8h4.4M342.9,474.7V476.9M340.7,474.7h4.4M340.7,476.9h4.4M345.9,474.8V476.9M343.7,474.8h4.4M343.7,476.9h4.4M349.0,474.8V476.9M346.8,474.8h4.4M346.8,476.9h4.4M352.0,474.9V477.0M349.8,474.9h4.4M349.8,477.0h4.4M355.0,474.9V477.0M352.8,474.9h4.4M352.8,477.0h4.4M358.1,474.9V477.0M355.9,474.9h4.4M355.9,477.0h4.4M361.1,474.9V477.0M358.9,474.9h4.4M358.9,477.0h4.4M364.2,475.0V477.1M362.0,475.0h4.4M362.0,477.1h4.4M367.2,475.0V477.1M365.0,475.0h4.4M365.0,477.1h4.4M370.2,475.0V477.1M368.0,475.0h4.4M368.0,477.1h4.4M373.3,475.0V477.1M371.1,475.0h4.4M371.1,477.1h4.4M376.3,475.0V477.1M374.1,475.0h4.4M374.1,477.1h4.4M379.3,475.1V477.1M377.1,475.1h4.4M377.1,477.1h4.4M382.4,475.1V477.1M380.2,475.1h4.4M380.2,477.1h4.4M385.4,475.1V477.1M383.2,475.1h4.4M383.2,477.1h4.4M388.4,475.1V477.1M386.2,475.1h4.4M386.2,477.1h4.4M391.5,475.1V477.2M389.3,475.1h4.4M389.3,477.2h4.4M394.5,475.1V477.2M392.3,475.1h4.4M392.3,477.2h4.4M397.6,475.1V477.2M395.4,475.1h4.4M395.4,477.2h4.4" fill="none" stroke="#8c0a94" stroke-width="1.05"/>
<polyline points="245.8,475.9 248.8,475.5 251.8,474.8 254.9,474.2 257.9,473.5 260.9,471.4 264.0,468.3 267.0,459.0 270.0,448.1 273.1,436.8 276.1,423.3 279.1,404.3 282.2,387.9 285.2,376.2 288.3,368.7 291.3,363.7 294.3,368.7 297.4,384.2 300.4,400.3 303.4,416.5 306.5,430.1 309.5,451.2 312.5,460.0 315.6,467.8 318.6,472.4 321.6,474.5 324.7,475.1 327.7,475.5 330.8,475.6 333.8,475.6 336.8,475.7 339.9,475.7 342.9,475.8 345.9,475.8 349.0,475.9 352.0,475.9 355.0,475.9 358.1,476.0 361.1,476.0 364.2,476.0 367.2,476.0 370.2,476.1 373.3,476.1 376.3,476.1 379.3,476.1 382.4,476.1 385.4,476.1 388.4,476.1 391.5,476.1 394.5,476.1 397.6,476.1" fill="none" stroke="#8c0a94" stroke-width="1.4" stroke-linejoin="round"/>
<g fill="#fff" stroke="#8c0a94" stroke-width="1.3"><circle cx="245.8" cy="475.9" r="1.65"/><circle cx="248.8" cy="475.5" r="1.65"/><circle cx="251.8" cy="474.8" r="1.65"/><circle cx="254.9" cy="474.2" r="1.65"/><circle cx="257.9" cy="473.5" r="1.65"/><circle cx="260.9" cy="471.4" r="1.65"/><circle cx="264.0" cy="468.3" r="1.65"/><circle cx="267.0" cy="459.0" r="1.65"/><circle cx="270.0" cy="448.1" r="1.65"/><circle cx="273.1" cy="436.8" r="1.65"/><circle cx="276.1" cy="423.3" r="1.65"/><circle cx="279.1" cy="404.3" r="1.65"/><circle cx="282.2" cy="387.9" r="1.65"/><circle cx="285.2" cy="376.2" r="1.65"/><circle cx="288.3" cy="368.7" r="1.65"/><circle cx="291.3" cy="363.7" r="1.65"/><circle cx="294.3" cy="368.7" r="1.65"/><circle cx="297.4" cy="384.2" r="1.65"/><circle cx="300.4" cy="400.3" r="1.65"/><circle cx="303.4" cy="416.5" r="1.65"/><circle cx="306.5" cy="430.1" r="1.65"/><circle cx="309.5" cy="451.2" r="1.65"/><circle cx="312.5" cy="460.0" r="1.65"/><circle cx="315.6" cy="467.8" r="1.65"/><circle cx="318.6" cy="472.4" r="1.65"/><circle cx="321.6" cy="474.5" r="1.65"/><circle cx="324.7" cy="475.1" r="1.65"/><circle cx="327.7" cy="475.5" r="1.65"/><circle cx="330.8" cy="475.6" r="1.65"/><circle cx="333.8" cy="475.6" r="1.65"/><circle cx="336.8" cy="475.7" r="1.65"/><circle cx="339.9" cy="475.7" r="1.65"/><circle cx="342.9" cy="475.8" r="1.65"/><circle cx="345.9" cy="475.8" r="1.65"/><circle cx="349.0" cy="475.9" r="1.65"/><circle cx="352.0" cy="475.9" r="1.65"/><circle cx="355.0" cy="475.9" r="1.65"/><circle cx="358.1" cy="476.0" r="1.65"/><circle cx="361.1" cy="476.0" r="1.65"/><circle cx="364.2" cy="476.0" r="1.65"/><circle cx="367.2" cy="476.0" r="1.65"/><circle cx="370.2" cy="476.1" r="1.65"/><circle cx="373.3" cy="476.1" r="1.65"/><circle cx="376.3" cy="476.1" r="1.65"/><circle cx="379.3" cy="476.1" r="1.65"/><circle cx="382.4" cy="476.1" r="1.65"/><circle cx="385.4" cy="476.1" r="1.65"/><circle cx="388.4" cy="476.1" r="1.65"/><circle cx="391.5" cy="476.1" r="1.65"/><circle cx="394.5" cy="476.1" r="1.65"/><circle cx="397.6" cy="476.1" r="1.65"/></g>
<path d="M245.8,475.1V477.1M243.6,475.1h4.4M243.6,477.1h4.4M248.8,475.1V477.1M246.6,475.1h4.4M246.6,477.1h4.4M251.8,475.0V477.1M249.6,475.0h4.4M249.6,477.1h4.4M254.9,474.8V476.9M252.7,474.8h4.4M252.7,476.9h4.4M257.9,474.6V476.7M255.7,474.6h4.4M255.7,476.7h4.4M260.9,474.4V476.5M258.7,474.4h4.4M258.7,476.5h4.4M264.0,474.2V476.4M261.8,474.2h4.4M261.8,476.4h4.4M267.0,474.1V476.3M264.8,474.1h4.4M264.8,476.3h4.4M270.0,473.9V476.2M267.8,473.9h4.4M267.8,476.2h4.4M273.1,473.5V475.8M270.9,473.5h4.4M270.9,475.8h4.4M276.1,472.8V475.3M273.9,472.8h4.4M273.9,475.3h4.4M279.1,471.6V474.3M276.9,471.6h4.4M276.9,474.3h4.4M282.2,472.2V474.8M280.0,472.2h4.4M280.0,474.8h4.4M285.2,470.9V473.8M283.0,470.9h4.4M283.0,473.8h4.4M288.3,469.9V472.9M286.1,469.9h4.4M286.1,472.9h4.4M291.3,469.4V472.5M289.1,469.4h4.4M289.1,472.5h4.4M294.3,468.1V471.7M292.1,468.1h4.4M292.1,471.7h4.4M297.4,464.3V469.0M295.2,464.3h4.4M295.2,469.0h4.4M300.4,458.3V464.9M298.2,458.3h4.4M298.2,464.9h4.4M303.4,447.8V456.8M301.2,447.8h4.4M301.2,456.8h4.4M306.5,426.5V438.8M304.3,426.5h4.4M304.3,438.8h4.4M309.5,396.9V412.1M307.3,396.9h4.4M307.3,412.1h4.4M312.5,364.6V381.8M310.3,364.6h4.4M310.3,381.8h4.4M315.6,330.1V347.3M313.4,330.1h4.4M313.4,347.3h4.4M318.6,312.2V326.5M316.4,312.2h4.4M316.4,326.5h4.4M321.6,312.0V326.7M319.4,312.0h4.4M319.4,326.7h4.4M324.7,333.2V351.6M322.5,333.2h4.4M322.5,351.6h4.4M327.7,376.2V394.6M325.5,376.2h4.4M325.5,394.6h4.4M330.8,416.8V431.5M328.6,416.8h4.4M328.6,431.5h4.4M333.8,445.5V455.9M331.6,445.5h4.4M331.6,455.9h4.4M336.8,462.5V468.8M334.6,462.5h4.4M334.6,468.8h4.4M339.9,470.1V473.7M337.7,470.1h4.4M337.7,473.7h4.4M342.9,472.4V475.1M340.7,472.4h4.4M340.7,475.1h4.4M345.9,473.4V475.9M343.7,473.4h4.4M343.7,475.9h4.4M349.0,474.2V476.5M346.8,474.2h4.4M346.8,476.5h4.4M352.0,474.6V476.7M349.8,474.6h4.4M349.8,476.7h4.4M355.0,474.6V476.7M352.8,474.6h4.4M352.8,476.7h4.4M358.1,474.6V476.7M355.9,474.6h4.4M355.9,476.7h4.4M361.1,474.6V476.7M358.9,474.6h4.4M358.9,476.7h4.4M364.2,474.6V476.7M362.0,474.6h4.4M362.0,476.7h4.4M367.2,474.6V476.7M365.0,474.6h4.4M365.0,476.7h4.4M370.2,474.6V476.7M368.0,474.6h4.4M368.0,476.7h4.4M373.3,474.6V476.7M371.1,474.6h4.4M371.1,476.7h4.4M376.3,474.6V476.7M374.1,474.6h4.4M374.1,476.7h4.4M379.3,474.6V476.7M377.1,474.6h4.4M377.1,476.7h4.4M382.4,474.6V476.7M380.2,474.6h4.4M380.2,476.7h4.4M385.4,474.6V476.7M383.2,474.6h4.4M383.2,476.7h4.4M388.4,474.6V476.7M386.2,474.6h4.4M386.2,476.7h4.4M391.5,474.6V476.7M389.3,474.6h4.4M389.3,476.7h4.4M394.5,474.6V476.7M392.3,474.6h4.4M392.3,476.7h4.4M397.6,474.6V476.7M395.4,474.6h4.4M395.4,476.7h4.4" fill="none" stroke="#1e8ffc" stroke-width="1.05"/>
<polyline points="245.8,476.1 248.8,476.1 251.8,476.0 254.9,475.8 257.9,475.6 260.9,475.5 264.0,475.3 267.0,475.2 270.0,475.0 273.1,474.6 276.1,474.0 279.1,472.9 282.2,473.5 285.2,472.4 288.3,471.4 291.3,471.0 294.3,469.9 297.4,466.7 300.4,461.6 303.4,452.3 306.5,432.6 309.5,404.5 312.5,373.2 315.6,338.7 318.6,319.4 321.6,319.4 324.7,342.4 327.7,385.4 330.8,424.2 333.8,450.7 336.8,465.7 339.9,471.9 342.9,473.7 345.9,474.7 349.0,475.4 352.0,475.7 355.0,475.7 358.1,475.7 361.1,475.7 364.2,475.7 367.2,475.7 370.2,475.7 373.3,475.7 376.3,475.7 379.3,475.7 382.4,475.7 385.4,475.7 388.4,475.7 391.5,475.7 394.5,475.7 397.6,475.7" fill="none" stroke="#1e8ffc" stroke-width="1.4" stroke-linejoin="round"/>
<g fill="#fff" stroke="#1e8ffc" stroke-width="1.3"><circle cx="245.8" cy="476.1" r="1.65"/><circle cx="248.8" cy="476.1" r="1.65"/><circle cx="251.8" cy="476.0" r="1.65"/><circle cx="254.9" cy="475.8" r="1.65"/><circle cx="257.9" cy="475.6" r="1.65"/><circle cx="260.9" cy="475.5" r="1.65"/><circle cx="264.0" cy="475.3" r="1.65"/><circle cx="267.0" cy="475.2" r="1.65"/><circle cx="270.0" cy="475.0" r="1.65"/><circle cx="273.1" cy="474.6" r="1.65"/><circle cx="276.1" cy="474.0" r="1.65"/><circle cx="279.1" cy="472.9" r="1.65"/><circle cx="282.2" cy="473.5" r="1.65"/><circle cx="285.2" cy="472.4" r="1.65"/><circle cx="288.3" cy="471.4" r="1.65"/><circle cx="291.3" cy="471.0" r="1.65"/><circle cx="294.3" cy="469.9" r="1.65"/><circle cx="297.4" cy="466.7" r="1.65"/><circle cx="300.4" cy="461.6" r="1.65"/><circle cx="303.4" cy="452.3" r="1.65"/><circle cx="306.5" cy="432.6" r="1.65"/><circle cx="309.5" cy="404.5" r="1.65"/><circle cx="312.5" cy="373.2" r="1.65"/><circle cx="315.6" cy="338.7" r="1.65"/><circle cx="318.6" cy="319.4" r="1.65"/><circle cx="321.6" cy="319.4" r="1.65"/><circle cx="324.7" cy="342.4" r="1.65"/><circle cx="327.7" cy="385.4" r="1.65"/><circle cx="330.8" cy="424.2" r="1.65"/><circle cx="333.8" cy="450.7" r="1.65"/><circle cx="336.8" cy="465.7" r="1.65"/><circle cx="339.9" cy="471.9" r="1.65"/><circle cx="342.9" cy="473.7" r="1.65"/><circle cx="345.9" cy="474.7" r="1.65"/><circle cx="349.0" cy="475.4" r="1.65"/><circle cx="352.0" cy="475.7" r="1.65"/><circle cx="355.0" cy="475.7" r="1.65"/><circle cx="358.1" cy="475.7" r="1.65"/><circle cx="361.1" cy="475.7" r="1.65"/><circle cx="364.2" cy="475.7" r="1.65"/><circle cx="367.2" cy="475.7" r="1.65"/><circle cx="370.2" cy="475.7" r="1.65"/><circle cx="373.3" cy="475.7" r="1.65"/><circle cx="376.3" cy="475.7" r="1.65"/><circle cx="379.3" cy="475.7" r="1.65"/><circle cx="382.4" cy="475.7" r="1.65"/><circle cx="385.4" cy="475.7" r="1.65"/><circle cx="388.4" cy="475.7" r="1.65"/><circle cx="391.5" cy="475.7" r="1.65"/><circle cx="394.5" cy="475.7" r="1.65"/><circle cx="397.6" cy="475.7" r="1.65"/></g>
</g>
<g clip-path="url(#cp12)">
<polyline points="428.2,471.5 431.2,468.8 434.3,465.7 437.3,462.7 440.3,460.0 443.4,457.9 446.4,455.6 449.5,453.0 452.5,456.4 455.5,451.6 458.6,450.2 461.6,450.2 464.6,450.8 467.7,452.2 470.7,454.6 473.7,454.5 476.8,453.3 479.8,452.4 482.8,451.7 485.9,451.9 488.9,452.7 492.0,442.0 495.0,437.9 498.0,433.3 501.1,428.3 504.1,423.2 507.1,418.7 510.2,414.7 513.2,411.1 516.2,408.2 519.3,416.0 522.3,429.9 525.4,441.7 528.4,452.8 531.4,463.6 534.5,468.6 537.5,471.5 540.5,473.4 543.6,474.4 546.6,475.0 549.6,475.4 552.7,475.5 555.7,475.6 558.7,475.6 561.8,475.7 564.8,475.8 567.9,475.8 570.9,475.9 573.9,475.9 577.0,475.9 580.0,475.9" fill="none" stroke="#3bb273" stroke-width="1.45" stroke-linejoin="round"/>
<polyline points="428.2,475.5 431.2,475.4 434.3,475.4 437.3,475.3 440.3,475.2 443.4,475.2 446.4,475.1 449.5,475.0 452.5,474.8 455.5,474.7 458.6,474.6 461.6,474.4 464.6,474.2 467.7,474.0 470.7,473.8 473.7,473.4 476.8,472.8 479.8,471.8 482.8,470.7 485.9,469.2 488.9,467.4 492.0,465.0 495.0,461.8 498.0,456.7 501.1,448.2 504.1,435.8 507.1,418.1 510.2,396.8 513.2,376.6 516.2,355.8 519.3,342.4 522.3,342.4 525.4,371.5 528.4,403.0 531.4,430.0 534.5,449.4 537.5,462.1 540.5,469.2 543.6,472.9 546.6,474.6 549.6,475.4 552.7,475.6 555.7,475.8 558.7,476.0 561.8,476.1 564.8,476.2 567.9,476.3 570.9,476.4 573.9,476.4 577.0,476.4 580.0,476.5" fill="none" stroke="#1f1f87" stroke-width="1.45" stroke-linejoin="round"/>
<path d="M428.2,471.1V474.1M426.0,471.1h4.4M426.0,474.1h4.4M431.2,471.1V474.1M429.0,471.1h4.4M429.0,474.1h4.4M434.3,471.1V474.1M432.1,471.1h4.4M432.1,474.1h4.4M437.3,470.8V474.0M435.1,470.8h4.4M435.1,474.0h4.4M440.3,470.3V473.6M438.1,470.3h4.4M438.1,473.6h4.4M443.4,469.7V473.2M441.2,469.7h4.4M441.2,473.2h4.4M446.4,469.2V472.7M444.2,469.2h4.4M444.2,472.7h4.4M449.5,468.7V472.4M447.3,468.7h4.4M447.3,472.4h4.4M452.5,468.0V472.1M450.3,468.0h4.4M450.3,472.1h4.4M455.5,465.2V470.3M453.3,465.2h4.4M453.3,470.3h4.4M458.6,462.0V467.8M456.4,462.0h4.4M456.4,467.8h4.4M461.6,461.5V467.1M459.4,461.5h4.4M459.4,467.1h4.4M464.6,461.2V467.3M462.4,461.2h4.4M462.4,467.3h4.4M467.7,457.0V464.3M465.5,457.0h4.4M465.5,464.3h4.4M470.7,455.4V463.0M468.5,455.4h4.4M468.5,463.0h4.4M473.7,451.5V459.8M471.5,451.5h4.4M471.5,459.8h4.4M476.8,448.0V456.5M474.6,448.0h4.4M474.6,456.5h4.4M479.8,445.9V454.3M477.6,445.9h4.4M477.6,454.3h4.4M482.8,444.8V454.1M480.6,444.8h4.4M480.6,454.1h4.4M485.9,436.6V446.7M483.7,436.6h4.4M483.7,446.7h4.4M488.9,436.4V445.6M486.7,436.4h4.4M486.7,445.6h4.4M492.0,435.0V444.1M489.8,435.0h4.4M489.8,444.1h4.4M495.0,435.5V444.9M492.8,435.5h4.4M492.8,444.9h4.4M498.0,431.4V442.2M495.8,431.4h4.4M495.8,442.2h4.4M501.1,424.2V436.4M498.9,424.2h4.4M498.9,436.4h4.4M504.1,415.3V427.8M501.9,415.3h4.4M501.9,427.8h4.4M507.1,411.5V423.8M504.9,411.5h4.4M504.9,423.8h4.4M510.2,406.2V419.0M508.0,406.2h4.4M508.0,419.0h4.4M513.2,401.7V414.5M511.0,401.7h4.4M511.0,414.5h4.4M516.2,398.8V411.3M514.0,398.8h4.4M514.0,411.3h4.4M519.3,397.8V410.3M517.1,397.8h4.4M517.1,410.3h4.4M522.3,394.2V408.7M520.1,394.2h4.4M520.1,408.7h4.4M525.4,412.4V427.8M523.2,412.4h4.4M523.2,427.8h4.4M528.4,425.4V439.2M526.2,425.4h4.4M526.2,439.2h4.4M531.4,440.6V453.0M529.2,440.6h4.4M529.2,453.0h4.4M534.5,455.1V464.9M532.3,455.1h4.4M532.3,464.9h4.4M537.5,465.0V471.1M535.3,465.0h4.4M535.3,471.1h4.4M540.5,470.2V474.2M538.3,470.2h4.4M538.3,474.2h4.4M543.6,472.2V475.3M541.4,472.2h4.4M541.4,475.3h4.4M546.6,473.4V476.1M544.4,473.4h4.4M544.4,476.1h4.4M549.6,474.0V476.5M547.4,474.0h4.4M547.4,476.5h4.4M552.7,474.2V476.6M550.5,474.2h4.4M550.5,476.6h4.4M555.7,474.3V476.7M553.5,474.3h4.4M553.5,476.7h4.4M558.7,474.5V476.8M556.5,474.5h4.4M556.5,476.8h4.4M561.8,474.6V476.8M559.6,474.6h4.4M559.6,476.8h4.4M564.8,474.6V476.9M562.6,474.6h4.4M562.6,476.9h4.4M567.9,474.7V476.9M565.7,474.7h4.4M565.7,476.9h4.4M570.9,474.7V477.0M568.7,474.7h4.4M568.7,477.0h4.4M573.9,474.8V477.0M571.7,474.8h4.4M571.7,477.0h4.4M577.0,474.8V477.0M574.8,474.8h4.4M574.8,477.0h4.4M580.0,474.8V477.0M577.8,474.8h4.4M577.8,477.0h4.4" fill="none" stroke="#8c0a94" stroke-width="1.05"/>
<polyline points="428.2,472.6 431.2,472.6 434.3,472.6 437.3,472.4 440.3,471.9 443.4,471.4 446.4,471.0 449.5,470.5 452.5,470.1 455.5,467.8 458.6,464.9 461.6,464.3 464.6,464.3 467.7,460.6 470.7,459.2 473.7,455.7 476.8,452.3 479.8,450.1 482.8,449.4 485.9,441.6 488.9,441.0 492.0,439.5 495.0,440.2 498.0,436.8 501.1,430.3 504.1,421.5 507.1,417.7 510.2,412.6 513.2,408.1 516.2,405.0 519.3,404.1 522.3,401.4 525.4,420.1 528.4,432.3 531.4,446.8 534.5,460.0 537.5,468.1 540.5,472.2 543.6,473.7 546.6,474.7 549.6,475.2 552.7,475.4 555.7,475.5 558.7,475.6 561.8,475.7 564.8,475.8 567.9,475.8 570.9,475.9 573.9,475.9 577.0,475.9 580.0,475.9" fill="none" stroke="#8c0a94" stroke-width="1.4" stroke-linejoin="round"/>
<g fill="#fff" stroke="#8c0a94" stroke-width="1.3"><circle cx="428.2" cy="472.6" r="1.65"/><circle cx="431.2" cy="472.6" r="1.65"/><circle cx="434.3" cy="472.6" r="1.65"/><circle cx="437.3" cy="472.4" r="1.65"/><circle cx="440.3" cy="471.9" r="1.65"/><circle cx="443.4" cy="471.4" r="1.65"/><circle cx="446.4" cy="471.0" r="1.65"/><circle cx="449.5" cy="470.5" r="1.65"/><circle cx="452.5" cy="470.1" r="1.65"/><circle cx="455.5" cy="467.8" r="1.65"/><circle cx="458.6" cy="464.9" r="1.65"/><circle cx="461.6" cy="464.3" r="1.65"/><circle cx="464.6" cy="464.3" r="1.65"/><circle cx="467.7" cy="460.6" r="1.65"/><circle cx="470.7" cy="459.2" r="1.65"/><circle cx="473.7" cy="455.7" r="1.65"/><circle cx="476.8" cy="452.3" r="1.65"/><circle cx="479.8" cy="450.1" r="1.65"/><circle cx="482.8" cy="449.4" r="1.65"/><circle cx="485.9" cy="441.6" r="1.65"/><circle cx="488.9" cy="441.0" r="1.65"/><circle cx="492.0" cy="439.5" r="1.65"/><circle cx="495.0" cy="440.2" r="1.65"/><circle cx="498.0" cy="436.8" r="1.65"/><circle cx="501.1" cy="430.3" r="1.65"/><circle cx="504.1" cy="421.5" r="1.65"/><circle cx="507.1" cy="417.7" r="1.65"/><circle cx="510.2" cy="412.6" r="1.65"/><circle cx="513.2" cy="408.1" r="1.65"/><circle cx="516.2" cy="405.0" r="1.65"/><circle cx="519.3" cy="404.1" r="1.65"/><circle cx="522.3" cy="401.4" r="1.65"/><circle cx="525.4" cy="420.1" r="1.65"/><circle cx="528.4" cy="432.3" r="1.65"/><circle cx="531.4" cy="446.8" r="1.65"/><circle cx="534.5" cy="460.0" r="1.65"/><circle cx="537.5" cy="468.1" r="1.65"/><circle cx="540.5" cy="472.2" r="1.65"/><circle cx="543.6" cy="473.7" r="1.65"/><circle cx="546.6" cy="474.7" r="1.65"/><circle cx="549.6" cy="475.2" r="1.65"/><circle cx="552.7" cy="475.4" r="1.65"/><circle cx="555.7" cy="475.5" r="1.65"/><circle cx="558.7" cy="475.6" r="1.65"/><circle cx="561.8" cy="475.7" r="1.65"/><circle cx="564.8" cy="475.8" r="1.65"/><circle cx="567.9" cy="475.8" r="1.65"/><circle cx="570.9" cy="475.9" r="1.65"/><circle cx="573.9" cy="475.9" r="1.65"/><circle cx="577.0" cy="475.9" r="1.65"/><circle cx="580.0" cy="475.9" r="1.65"/></g>
<path d="M428.2,473.4V476.0M426.0,473.4h4.4M426.0,476.0h4.4M431.2,473.4V476.0M429.0,473.4h4.4M429.0,476.0h4.4M434.3,473.4V476.0M432.1,473.4h4.4M432.1,476.0h4.4M437.3,473.4V476.0M435.1,473.4h4.4M435.1,476.0h4.4M440.3,473.4V476.0M438.1,473.4h4.4M438.1,476.0h4.4M443.4,473.4V476.0M441.2,473.4h4.4M441.2,476.0h4.4M446.4,473.3V475.9M444.2,473.3h4.4M444.2,475.9h4.4M449.5,473.0V475.8M447.3,473.0h4.4M447.3,475.8h4.4M452.5,472.7V475.6M450.3,472.7h4.4M450.3,475.6h4.4M455.5,471.8V475.0M453.3,471.8h4.4M453.3,475.0h4.4M458.6,470.7V474.1M456.4,470.7h4.4M456.4,474.1h4.4M461.6,470.2V473.7M459.4,470.2h4.4M459.4,473.7h4.4M464.6,469.5V473.2M462.4,469.5h4.4M462.4,473.2h4.4M467.7,468.8V472.8M465.5,468.8h4.4M465.5,472.8h4.4M470.7,466.6V471.3M468.5,466.6h4.4M468.5,471.3h4.4M473.7,466.1V470.8M471.5,466.1h4.4M471.5,470.8h4.4M476.8,464.4V469.6M474.6,464.4h4.4M474.6,469.6h4.4M479.8,463.3V469.4M477.6,463.3h4.4M477.6,469.4h4.4M482.8,456.5V464.8M480.6,456.5h4.4M480.6,464.8h4.4M485.9,455.3V463.1M483.7,455.3h4.4M483.7,463.1h4.4M488.9,452.9V461.3M486.7,452.9h4.4M486.7,461.3h4.4M492.0,450.1V458.7M489.8,450.1h4.4M489.8,458.7h4.4M495.0,448.9V458.3M492.8,448.9h4.4M492.8,458.3h4.4M498.0,441.0V452.4M495.8,441.0h4.4M495.8,452.4h4.4M501.1,432.7V445.5M498.9,432.7h4.4M498.9,445.5h4.4M504.1,421.3V436.1M501.9,421.3h4.4M501.9,436.1h4.4M507.1,407.0V423.9M504.9,407.0h4.4M504.9,423.9h4.4M510.2,389.3V409.1M508.0,389.3h4.4M508.0,409.1h4.4M513.2,366.0V387.0M511.0,366.0h4.4M511.0,387.0h4.4M516.2,353.1V372.4M514.0,353.1h4.4M514.0,372.4h4.4M519.3,346.3V364.0M517.1,346.3h4.4M517.1,364.0h4.4M522.3,360.8V381.9M520.1,360.8h4.4M520.1,381.9h4.4M525.4,380.4V400.9M523.2,380.4h4.4M523.2,400.9h4.4M528.4,400.8V421.7M526.2,400.8h4.4M526.2,421.7h4.4M531.4,433.8V451.0M529.2,433.8h4.4M529.2,451.0h4.4M534.5,452.2V463.8M532.3,452.2h4.4M532.3,463.8h4.4M537.5,464.2V471.1M535.3,464.2h4.4M535.3,471.1h4.4M540.5,469.7V474.2M538.3,469.7h4.4M538.3,474.2h4.4M543.6,472.8V475.9M541.4,472.8h4.4M541.4,475.9h4.4M546.6,473.8V476.4M544.4,473.8h4.4M544.4,476.4h4.4M549.6,474.1V476.6M547.4,474.1h4.4M547.4,476.6h4.4M552.7,474.2V476.5M550.5,474.2h4.4M550.5,476.5h4.4M555.7,474.2V476.5M553.5,474.2h4.4M553.5,476.5h4.4M558.7,474.2V476.5M556.5,474.2h4.4M556.5,476.5h4.4M561.8,474.2V476.5M559.6,474.2h4.4M559.6,476.5h4.4M564.8,474.2V476.5M562.6,474.2h4.4M562.6,476.5h4.4M567.9,474.2V476.5M565.7,474.2h4.4M565.7,476.5h4.4M570.9,474.2V476.5M568.7,474.2h4.4M568.7,476.5h4.4M573.9,474.2V476.5M571.7,474.2h4.4M571.7,476.5h4.4M577.0,474.2V476.5M574.8,474.2h4.4M574.8,476.5h4.4M580.0,474.2V476.5M577.8,474.2h4.4M577.8,476.5h4.4" fill="none" stroke="#1e8ffc" stroke-width="1.05"/>
<polyline points="428.2,474.7 431.2,474.7 434.3,474.7 437.3,474.7 440.3,474.7 443.4,474.7 446.4,474.6 449.5,474.4 452.5,474.1 455.5,473.4 458.6,472.4 461.6,471.9 464.6,471.3 467.7,470.8 470.7,469.0 473.7,468.4 476.8,467.0 479.8,466.3 482.8,460.6 485.9,459.2 488.9,457.1 492.0,454.4 495.0,453.6 498.0,446.7 501.1,439.1 504.1,428.7 507.1,415.5 510.2,399.2 513.2,376.5 516.2,362.8 519.3,355.2 522.3,371.3 525.4,390.7 528.4,411.3 531.4,442.4 534.5,458.0 537.5,467.7 540.5,471.9 543.6,474.4 546.6,475.1 549.6,475.4 552.7,475.4 555.7,475.4 558.7,475.4 561.8,475.4 564.8,475.4 567.9,475.4 570.9,475.4 573.9,475.4 577.0,475.4 580.0,475.4" fill="none" stroke="#1e8ffc" stroke-width="1.4" stroke-linejoin="round"/>
<g fill="#fff" stroke="#1e8ffc" stroke-width="1.3"><circle cx="428.2" cy="474.7" r="1.65"/><circle cx="431.2" cy="474.7" r="1.65"/><circle cx="434.3" cy="474.7" r="1.65"/><circle cx="437.3" cy="474.7" r="1.65"/><circle cx="440.3" cy="474.7" r="1.65"/><circle cx="443.4" cy="474.7" r="1.65"/><circle cx="446.4" cy="474.6" r="1.65"/><circle cx="449.5" cy="474.4" r="1.65"/><circle cx="452.5" cy="474.1" r="1.65"/><circle cx="455.5" cy="473.4" r="1.65"/><circle cx="458.6" cy="472.4" r="1.65"/><circle cx="461.6" cy="471.9" r="1.65"/><circle cx="464.6" cy="471.3" r="1.65"/><circle cx="467.7" cy="470.8" r="1.65"/><circle cx="470.7" cy="469.0" r="1.65"/><circle cx="473.7" cy="468.4" r="1.65"/><circle cx="476.8" cy="467.0" r="1.65"/><circle cx="479.8" cy="466.3" r="1.65"/><circle cx="482.8" cy="460.6" r="1.65"/><circle cx="485.9" cy="459.2" r="1.65"/><circle cx="488.9" cy="457.1" r="1.65"/><circle cx="492.0" cy="454.4" r="1.65"/><circle cx="495.0" cy="453.6" r="1.65"/><circle cx="498.0" cy="446.7" r="1.65"/><circle cx="501.1" cy="439.1" r="1.65"/><circle cx="504.1" cy="428.7" r="1.65"/><circle cx="507.1" cy="415.5" r="1.65"/><circle cx="510.2" cy="399.2" r="1.65"/><circle cx="513.2" cy="376.5" r="1.65"/><circle cx="516.2" cy="362.8" r="1.65"/><circle cx="519.3" cy="355.2" r="1.65"/><circle cx="522.3" cy="371.3" r="1.65"/><circle cx="525.4" cy="390.7" r="1.65"/><circle cx="528.4" cy="411.3" r="1.65"/><circle cx="531.4" cy="442.4" r="1.65"/><circle cx="534.5" cy="458.0" r="1.65"/><circle cx="537.5" cy="467.7" r="1.65"/><circle cx="540.5" cy="471.9" r="1.65"/><circle cx="543.6" cy="474.4" r="1.65"/><circle cx="546.6" cy="475.1" r="1.65"/><circle cx="549.6" cy="475.4" r="1.65"/><circle cx="552.7" cy="475.4" r="1.65"/><circle cx="555.7" cy="475.4" r="1.65"/><circle cx="558.7" cy="475.4" r="1.65"/><circle cx="561.8" cy="475.4" r="1.65"/><circle cx="564.8" cy="475.4" r="1.65"/><circle cx="567.9" cy="475.4" r="1.65"/><circle cx="570.9" cy="475.4" r="1.65"/><circle cx="573.9" cy="475.4" r="1.65"/><circle cx="577.0" cy="475.4" r="1.65"/><circle cx="580.0" cy="475.4" r="1.65"/></g>
</g>
<g clip-path="url(#cp13)">
<polyline points="610.6,469.3 613.7,463.1 616.7,457.1 619.8,449.3 622.8,436.3 625.8,413.1 628.9,383.2 631.9,363.4 634.9,352.2 638.0,352.2 641.0,369.1 644.0,391.0 647.1,420.1 650.1,444.8 653.2,457.2 656.2,462.2 659.2,464.8 662.3,466.2 665.3,467.0 668.3,467.7 671.4,471.0 674.4,472.2 677.4,471.8 680.5,469.5 683.5,469.5 686.5,469.4 689.6,469.1 692.6,466.5 695.7,466.2 698.7,466.7 701.7,467.7 704.8,468.8 707.8,470.2 710.8,472.3 713.9,474.1 716.9,475.5 719.9,476.0 723.0,476.2 726.0,476.2 729.1,476.2 732.1,476.2 735.1,476.2 738.2,476.2 741.2,476.2 744.2,476.1 747.3,476.1 750.3,476.0 753.3,475.9 756.4,475.6 759.4,474.6 762.5,474.1" fill="none" stroke="#3bb273" stroke-width="1.45" stroke-linejoin="round"/>
<polyline points="610.6,475.9 613.7,475.9 616.7,475.8 619.8,475.7 622.8,475.5 625.8,475.4 628.9,475.2 631.9,475.0 634.9,474.7 638.0,474.3 641.0,473.9 644.0,473.6 647.1,473.3 650.1,473.1 653.2,472.8 656.2,472.4 659.2,471.9 662.3,471.3 665.3,470.5 668.3,469.7 671.4,468.8 674.4,467.7 677.4,466.5 680.5,465.0 683.5,463.1 686.5,460.5 689.6,457.4 692.6,453.8 695.7,450.5 698.7,443.3 701.7,419.7 704.8,395.7 707.8,361.4 710.8,327.2 713.9,333.1 716.9,354.7 719.9,398.3 723.0,437.1 726.0,458.5 729.1,468.2 732.1,473.4 735.1,475.5 738.2,476.0 741.2,476.1 744.2,476.2 747.3,476.3 750.3,476.4 753.3,476.4 756.4,476.4 759.4,476.4 762.5,476.5" fill="none" stroke="#1f1f87" stroke-width="1.45" stroke-linejoin="round"/>
<path d="M610.6,459.6V468.1M608.4,459.6h4.4M608.4,468.1h4.4M613.7,455.9V465.5M611.5,455.9h4.4M611.5,465.5h4.4M616.7,453.7V463.4M614.5,453.7h4.4M614.5,463.4h4.4M619.8,452.6V462.3M617.6,452.6h4.4M617.6,462.3h4.4M622.8,450.9V460.7M620.6,450.9h4.4M620.6,460.7h4.4M625.8,450.9V460.7M623.6,450.9h4.4M623.6,460.7h4.4M628.9,449.2V459.7M626.7,449.2h4.4M626.7,459.7h4.4M631.9,446.4V457.3M629.7,446.4h4.4M629.7,457.3h4.4M634.9,445.3V455.8M632.7,445.3h4.4M632.7,455.8h4.4M638.0,447.1V457.9M635.8,447.1h4.4M635.8,457.9h4.4M641.0,448.5V459.1M638.8,448.5h4.4M638.8,459.1h4.4M644.0,451.6V461.6M641.8,451.6h4.4M641.8,461.6h4.4M647.1,452.4V461.8M644.9,452.4h4.4M644.9,461.8h4.4M650.1,453.0V462.5M647.9,453.0h4.4M647.9,462.5h4.4M653.2,454.5V463.6M651.0,454.5h4.4M651.0,463.6h4.4M656.2,454.5V463.7M654.0,454.5h4.4M654.0,463.7h4.4M659.2,456.1V464.9M657.0,456.1h4.4M657.0,464.9h4.4M662.3,453.0V462.5M660.1,453.0h4.4M660.1,462.5h4.4M665.3,454.0V463.1M663.1,454.0h4.4M663.1,463.1h4.4M668.3,452.3V461.9M666.1,452.3h4.4M666.1,461.9h4.4M671.4,451.8V461.4M669.2,451.8h4.4M669.2,461.4h4.4M674.4,451.0V460.6M672.2,451.0h4.4M672.2,460.6h4.4M677.4,450.9V460.7M675.2,450.9h4.4M675.2,460.7h4.4M680.5,449.3V459.4M678.3,449.3h4.4M678.3,459.4h4.4M683.5,449.4V459.3M681.3,449.4h4.4M681.3,459.3h4.4M686.5,448.7V458.8M684.3,448.7h4.4M684.3,458.8h4.4M689.6,447.2V457.8M687.4,447.2h4.4M687.4,457.8h4.4M692.6,445.7V456.7M690.4,445.7h4.4M690.4,456.7h4.4M695.7,443.4V454.6M693.5,443.4h4.4M693.5,454.6h4.4M698.7,442.0V454.2M696.5,442.0h4.4M696.5,454.2h4.4M701.7,434.1V449.6M699.5,434.1h4.4M699.5,449.6h4.4M704.8,420.4V439.8M702.6,420.4h4.4M702.6,439.8h4.4M707.8,402.1V421.8M705.6,402.1h4.4M705.6,421.8h4.4M710.8,400.2V417.4M708.6,400.2h4.4M708.6,417.4h4.4M713.9,394.9V413.2M711.7,394.9h4.4M711.7,413.2h4.4M716.9,408.6V430.9M714.7,408.6h4.4M714.7,430.9h4.4M719.9,432.4V451.3M717.7,432.4h4.4M717.7,451.3h4.4M723.0,447.1V461.9M720.8,447.1h4.4M720.8,461.9h4.4M726.0,461.5V471.0M723.8,461.5h4.4M723.8,471.0h4.4M729.1,468.1V473.8M726.9,468.1h4.4M726.9,473.8h4.4M732.1,472.2V476.1M729.9,472.2h4.4M729.9,476.1h4.4M735.1,474.0V476.9M732.9,474.0h4.4M732.9,476.9h4.4M738.2,474.5V477.0M736.0,474.5h4.4M736.0,477.0h4.4M741.2,474.6V477.1M739.0,474.6h4.4M739.0,477.1h4.4M744.2,474.7V477.1M742.0,474.7h4.4M742.0,477.1h4.4M747.3,474.8V477.2M745.1,474.8h4.4M745.1,477.2h4.4M750.3,474.9V477.2M748.1,474.9h4.4M748.1,477.2h4.4M753.3,474.9V477.2M751.1,474.9h4.4M751.1,477.2h4.4M756.4,475.0V477.3M754.2,475.0h4.4M754.2,477.3h4.4M759.4,475.0V477.3M757.2,475.0h4.4M757.2,477.3h4.4M762.5,475.0V477.3M760.2,475.0h4.4M760.2,477.3h4.4" fill="none" stroke="#8c0a94" stroke-width="1.05"/>
<polyline points="610.6,463.8 613.7,460.7 616.7,458.5 619.8,457.5 622.8,455.8 625.8,455.8 628.9,454.5 631.9,451.8 634.9,450.5 638.0,452.5 641.0,453.8 644.0,456.6 647.1,457.1 650.1,457.8 653.2,459.1 656.2,459.1 659.2,460.5 662.3,457.8 665.3,458.5 668.3,457.1 671.4,456.6 674.4,455.8 677.4,455.8 680.5,454.4 683.5,454.3 686.5,453.8 689.6,452.5 692.6,451.2 695.7,449.0 698.7,448.1 701.7,441.8 704.8,430.1 707.8,412.0 710.8,408.8 713.9,404.1 716.9,419.8 719.9,441.8 723.0,454.5 726.0,466.2 729.1,471.0 732.1,474.1 735.1,475.4 738.2,475.7 741.2,475.8 744.2,475.9 747.3,476.0 750.3,476.0 753.3,476.1 756.4,476.1 759.4,476.1 762.5,476.1" fill="none" stroke="#8c0a94" stroke-width="1.4" stroke-linejoin="round"/>
<g fill="#fff" stroke="#8c0a94" stroke-width="1.3"><circle cx="610.6" cy="463.8" r="1.65"/><circle cx="613.7" cy="460.7" r="1.65"/><circle cx="616.7" cy="458.5" r="1.65"/><circle cx="619.8" cy="457.5" r="1.65"/><circle cx="622.8" cy="455.8" r="1.65"/><circle cx="625.8" cy="455.8" r="1.65"/><circle cx="628.9" cy="454.5" r="1.65"/><circle cx="631.9" cy="451.8" r="1.65"/><circle cx="634.9" cy="450.5" r="1.65"/><circle cx="638.0" cy="452.5" r="1.65"/><circle cx="641.0" cy="453.8" r="1.65"/><circle cx="644.0" cy="456.6" r="1.65"/><circle cx="647.1" cy="457.1" r="1.65"/><circle cx="650.1" cy="457.8" r="1.65"/><circle cx="653.2" cy="459.1" r="1.65"/><circle cx="656.2" cy="459.1" r="1.65"/><circle cx="659.2" cy="460.5" r="1.65"/><circle cx="662.3" cy="457.8" r="1.65"/><circle cx="665.3" cy="458.5" r="1.65"/><circle cx="668.3" cy="457.1" r="1.65"/><circle cx="671.4" cy="456.6" r="1.65"/><circle cx="674.4" cy="455.8" r="1.65"/><circle cx="677.4" cy="455.8" r="1.65"/><circle cx="680.5" cy="454.4" r="1.65"/><circle cx="683.5" cy="454.3" r="1.65"/><circle cx="686.5" cy="453.8" r="1.65"/><circle cx="689.6" cy="452.5" r="1.65"/><circle cx="692.6" cy="451.2" r="1.65"/><circle cx="695.7" cy="449.0" r="1.65"/><circle cx="698.7" cy="448.1" r="1.65"/><circle cx="701.7" cy="441.8" r="1.65"/><circle cx="704.8" cy="430.1" r="1.65"/><circle cx="707.8" cy="412.0" r="1.65"/><circle cx="710.8" cy="408.8" r="1.65"/><circle cx="713.9" cy="404.1" r="1.65"/><circle cx="716.9" cy="419.8" r="1.65"/><circle cx="719.9" cy="441.8" r="1.65"/><circle cx="723.0" cy="454.5" r="1.65"/><circle cx="726.0" cy="466.2" r="1.65"/><circle cx="729.1" cy="471.0" r="1.65"/><circle cx="732.1" cy="474.1" r="1.65"/><circle cx="735.1" cy="475.4" r="1.65"/><circle cx="738.2" cy="475.7" r="1.65"/><circle cx="741.2" cy="475.8" r="1.65"/><circle cx="744.2" cy="475.9" r="1.65"/><circle cx="747.3" cy="476.0" r="1.65"/><circle cx="750.3" cy="476.0" r="1.65"/><circle cx="753.3" cy="476.1" r="1.65"/><circle cx="756.4" cy="476.1" r="1.65"/><circle cx="759.4" cy="476.1" r="1.65"/><circle cx="762.5" cy="476.1" r="1.65"/></g>
<path d="M610.6,473.0V475.7M608.4,473.0h4.4M608.4,475.7h4.4M613.7,472.8V475.7M611.5,472.8h4.4M611.5,475.7h4.4M616.7,471.5V474.8M614.5,471.5h4.4M614.5,474.8h4.4M619.8,470.7V474.0M617.6,470.7h4.4M617.6,474.0h4.4M622.8,470.6V474.1M620.6,470.6h4.4M620.6,474.1h4.4M625.8,468.2V472.6M623.6,468.2h4.4M623.6,472.6h4.4M628.9,465.8V471.0M626.7,465.8h4.4M626.7,471.0h4.4M631.9,463.1V468.5M629.7,463.1h4.4M629.7,468.5h4.4M634.9,466.8V471.4M632.7,466.8h4.4M632.7,471.4h4.4M638.0,465.4V470.1M635.8,465.4h4.4M635.8,470.1h4.4M641.0,466.0V470.9M638.8,466.0h4.4M638.8,470.9h4.4M644.0,462.1V468.2M641.8,462.1h4.4M641.8,468.2h4.4M647.1,462.1V468.1M644.9,462.1h4.4M644.9,468.1h4.4M650.1,465.2V470.3M647.9,465.2h4.4M647.9,470.3h4.4M653.2,465.4V470.1M651.0,465.4h4.4M651.0,470.1h4.4M656.2,464.6V469.6M654.0,464.6h4.4M654.0,469.6h4.4M659.2,466.8V471.4M657.0,466.8h4.4M657.0,471.4h4.4M662.3,466.8V471.4M660.1,466.8h4.4M660.1,471.4h4.4M665.3,464.5V469.7M663.1,464.5h4.4M663.1,469.7h4.4M668.3,464.4V469.9M666.1,464.4h4.4M666.1,469.9h4.4M671.4,459.8V466.5M669.2,459.8h4.4M669.2,466.5h4.4M674.4,462.3V468.0M672.2,462.3h4.4M672.2,468.0h4.4M677.4,460.6V467.1M675.2,460.6h4.4M675.2,467.1h4.4M680.5,459.0V466.0M678.3,459.0h4.4M678.3,466.0h4.4M683.5,457.8V465.2M681.3,457.8h4.4M681.3,465.2h4.4M686.5,455.8V463.9M684.3,455.8h4.4M684.3,463.9h4.4M689.6,451.5V460.5M687.4,451.5h4.4M687.4,460.5h4.4M692.6,447.2V456.9M690.4,447.2h4.4M690.4,456.9h4.4M695.7,441.7V453.0M693.5,441.7h4.4M693.5,453.0h4.4M698.7,430.2V444.1M696.5,430.2h4.4M696.5,444.1h4.4M701.7,415.3V432.2M699.5,415.3h4.4M699.5,432.2h4.4M704.8,393.0V413.6M702.6,393.0h4.4M702.6,413.6h4.4M707.8,366.3V388.4M705.6,366.3h4.4M705.6,388.4h4.4M710.8,348.8V369.2M708.6,348.8h4.4M708.6,369.2h4.4M713.9,341.4V360.3M711.7,341.4h4.4M711.7,360.3h4.4M716.9,361.6V385.7M714.7,361.6h4.4M714.7,385.7h4.4M719.9,394.2V416.6M717.7,394.2h4.4M717.7,416.6h4.4M723.0,422.3V441.0M720.8,422.3h4.4M720.8,441.0h4.4M726.0,447.8V461.2M723.8,447.8h4.4M723.8,461.2h4.4M729.1,460.3V468.8M726.9,460.3h4.4M726.9,468.8h4.4M732.1,468.4V473.6M729.9,468.4h4.4M729.9,473.6h4.4M735.1,472.4V475.8M732.9,472.4h4.4M732.9,475.8h4.4M738.2,473.9V476.5M736.0,473.9h4.4M736.0,476.5h4.4M741.2,474.1V476.6M739.0,474.1h4.4M739.0,476.6h4.4M744.2,474.2V476.5M742.0,474.2h4.4M742.0,476.5h4.4M747.3,474.2V476.5M745.1,474.2h4.4M745.1,476.5h4.4M750.3,474.2V476.5M748.1,474.2h4.4M748.1,476.5h4.4M753.3,474.2V476.5M751.1,474.2h4.4M751.1,476.5h4.4M756.4,474.2V476.5M754.2,474.2h4.4M754.2,476.5h4.4M759.4,474.2V476.5M757.2,474.2h4.4M757.2,476.5h4.4M762.5,474.2V476.5M760.2,474.2h4.4M760.2,476.5h4.4" fill="none" stroke="#1e8ffc" stroke-width="1.05"/>
<polyline points="610.6,474.4 613.7,474.2 616.7,473.2 619.8,472.4 622.8,472.4 625.8,470.4 628.9,468.4 631.9,465.8 634.9,469.1 638.0,467.8 641.0,468.4 644.0,465.1 647.1,465.1 650.1,467.8 653.2,467.8 656.2,467.1 659.2,469.1 662.3,469.1 665.3,467.1 668.3,467.1 671.4,463.2 674.4,465.1 677.4,463.8 680.5,462.5 683.5,461.5 686.5,459.9 689.6,456.0 692.6,452.1 695.7,447.3 698.7,437.1 701.7,423.7 704.8,403.3 707.8,377.4 710.8,359.0 713.9,350.9 716.9,373.6 719.9,405.4 723.0,431.6 726.0,454.5 729.1,464.6 732.1,471.0 735.1,474.1 738.2,475.2 741.2,475.4 744.2,475.4 747.3,475.4 750.3,475.4 753.3,475.4 756.4,475.4 759.4,475.4 762.5,475.4" fill="none" stroke="#1e8ffc" stroke-width="1.4" stroke-linejoin="round"/>
<g fill="#fff" stroke="#1e8ffc" stroke-width="1.3"><circle cx="610.6" cy="474.4" r="1.65"/><circle cx="613.7" cy="474.2" r="1.65"/><circle cx="616.7" cy="473.2" r="1.65"/><circle cx="619.8" cy="472.4" r="1.65"/><circle cx="622.8" cy="472.4" r="1.65"/><circle cx="625.8" cy="470.4" r="1.65"/><circle cx="628.9" cy="468.4" r="1.65"/><circle cx="631.9" cy="465.8" r="1.65"/><circle cx="634.9" cy="469.1" r="1.65"/><circle cx="638.0" cy="467.8" r="1.65"/><circle cx="641.0" cy="468.4" r="1.65"/><circle cx="644.0" cy="465.1" r="1.65"/><circle cx="647.1" cy="465.1" r="1.65"/><circle cx="650.1" cy="467.8" r="1.65"/><circle cx="653.2" cy="467.8" r="1.65"/><circle cx="656.2" cy="467.1" r="1.65"/><circle cx="659.2" cy="469.1" r="1.65"/><circle cx="662.3" cy="469.1" r="1.65"/><circle cx="665.3" cy="467.1" r="1.65"/><circle cx="668.3" cy="467.1" r="1.65"/><circle cx="671.4" cy="463.2" r="1.65"/><circle cx="674.4" cy="465.1" r="1.65"/><circle cx="677.4" cy="463.8" r="1.65"/><circle cx="680.5" cy="462.5" r="1.65"/><circle cx="683.5" cy="461.5" r="1.65"/><circle cx="686.5" cy="459.9" r="1.65"/><circle cx="689.6" cy="456.0" r="1.65"/><circle cx="692.6" cy="452.1" r="1.65"/><circle cx="695.7" cy="447.3" r="1.65"/><circle cx="698.7" cy="437.1" r="1.65"/><circle cx="701.7" cy="423.7" r="1.65"/><circle cx="704.8" cy="403.3" r="1.65"/><circle cx="707.8" cy="377.4" r="1.65"/><circle cx="710.8" cy="359.0" r="1.65"/><circle cx="713.9" cy="350.9" r="1.65"/><circle cx="716.9" cy="373.6" r="1.65"/><circle cx="719.9" cy="405.4" r="1.65"/><circle cx="723.0" cy="431.6" r="1.65"/><circle cx="726.0" cy="454.5" r="1.65"/><circle cx="729.1" cy="464.6" r="1.65"/><circle cx="732.1" cy="471.0" r="1.65"/><circle cx="735.1" cy="474.1" r="1.65"/><circle cx="738.2" cy="475.2" r="1.65"/><circle cx="741.2" cy="475.4" r="1.65"/><circle cx="744.2" cy="475.4" r="1.65"/><circle cx="747.3" cy="475.4" r="1.65"/><circle cx="750.3" cy="475.4" r="1.65"/><circle cx="753.3" cy="475.4" r="1.65"/><circle cx="756.4" cy="475.4" r="1.65"/><circle cx="759.4" cy="475.4" r="1.65"/><circle cx="762.5" cy="475.4" r="1.65"/></g>
</g>
<path d="M96.7,221.2H110.7" fill="none" stroke="#1f1f87" stroke-width="1.6"/>
<path d="M96.7,216.2v10.0M103.4,216.2v10.0M110.7,216.2v10.0" fill="none" stroke="#1f1f87" stroke-width="2.5"/>
<path d="M99.3,234.8H113.1" fill="none" stroke="#1e8ffc" stroke-width="1.6"/>
<path d="M99.3,229.8v10.0M106.0,229.8v10.0M113.1,229.8v10.0" fill="none" stroke="#1e8ffc" stroke-width="2.5"/>
<path d="M108.2,249.0H131.5" fill="none" stroke="#8c0a94" stroke-width="1.6"/>
<path d="M108.2,244.0v10.0M116.1,244.0v10.0M131.5,244.0v10.0" fill="none" stroke="#8c0a94" stroke-width="2.5"/>
<path d="M111.4,262.7H131.2" fill="none" stroke="#3bb273" stroke-width="1.6"/>
<path d="M111.4,257.7v10.0M119.8,257.7v10.0M131.2,257.7v10.0" fill="none" stroke="#3bb273" stroke-width="2.5"/>
<path d="M275.5,221.2H288.7" fill="none" stroke="#1f1f87" stroke-width="1.6"/>
<path d="M275.5,216.2v10.0M281.9,216.2v10.0M288.7,216.2v10.0" fill="none" stroke="#1f1f87" stroke-width="2.5"/>
<path d="M280.7,234.8H292.5" fill="none" stroke="#1e8ffc" stroke-width="1.6"/>
<path d="M280.7,229.8v10.0M286.6,229.8v10.0M292.5,229.8v10.0" fill="none" stroke="#1e8ffc" stroke-width="2.5"/>
<path d="M288.0,249.0H301.5" fill="none" stroke="#8c0a94" stroke-width="1.6"/>
<path d="M288.0,244.0v10.0M294.3,244.0v10.0M301.5,244.0v10.0" fill="none" stroke="#8c0a94" stroke-width="2.5"/>
<path d="M292.5,262.7H306.0" fill="none" stroke="#3bb273" stroke-width="1.6"/>
<path d="M292.5,257.7v10.0M299.2,257.7v10.0M306.0,257.7v10.0" fill="none" stroke="#3bb273" stroke-width="2.5"/>
<path d="M460.5,221.2H473.9" fill="none" stroke="#1f1f87" stroke-width="1.6"/>
<path d="M460.5,216.2v10.0M466.8,216.2v10.0M473.9,216.2v10.0" fill="none" stroke="#1f1f87" stroke-width="2.5"/>
<path d="M467.9,234.8H486.5" fill="none" stroke="#1e8ffc" stroke-width="1.6"/>
<path d="M467.9,229.8v10.0M476.7,229.8v10.0M486.5,229.8v10.0" fill="none" stroke="#1e8ffc" stroke-width="2.5"/>
<path d="M477.4,249.0H515.5" fill="none" stroke="#8c0a94" stroke-width="1.6"/>
<path d="M477.4,244.0v10.0M490.4,244.0v10.0M515.5,244.0v10.0" fill="none" stroke="#8c0a94" stroke-width="2.5"/>
<path d="M481.9,262.7H522.5" fill="none" stroke="#3bb273" stroke-width="1.6"/>
<path d="M481.9,257.7v10.0M494.7,257.7v10.0M522.5,257.7v10.0" fill="none" stroke="#3bb273" stroke-width="2.5"/>
<path d="M642.8,221.2H656.4" fill="none" stroke="#1f1f87" stroke-width="1.6"/>
<path d="M642.8,216.2v10.0M649.9,216.2v10.0M656.4,216.2v10.0" fill="none" stroke="#1f1f87" stroke-width="2.5"/>
<path d="M647.5,234.8H664.9" fill="none" stroke="#1e8ffc" stroke-width="1.6"/>
<path d="M647.5,229.8v10.0M657.0,229.8v10.0M664.9,229.8v10.0" fill="none" stroke="#1e8ffc" stroke-width="2.5"/>
<path d="M653.6,249.0H677.5" fill="none" stroke="#8c0a94" stroke-width="1.6"/>
<path d="M653.6,244.0v10.0M664.4,244.0v10.0M677.5,244.0v10.0" fill="none" stroke="#8c0a94" stroke-width="2.5"/>
<path d="M668.0,262.7H693.3" fill="none" stroke="#3bb273" stroke-width="1.6"/>
<path d="M668.0,257.7v10.0M681.4,257.7v10.0M693.3,257.7v10.0" fill="none" stroke="#3bb273" stroke-width="2.5"/>
<path d="M146.5,516.2H157.1" fill="none" stroke="#1f1f87" stroke-width="1.6"/>
<path d="M146.5,511.2v10.0M152.2,511.2v10.0M157.1,511.2v10.0" fill="none" stroke="#1f1f87" stroke-width="2.5"/>
<path d="M148.2,529.8H159.8" fill="none" stroke="#1e8ffc" stroke-width="1.6"/>
<path d="M148.2,524.8v10.0M154.3,524.8v10.0M159.8,524.8v10.0" fill="none" stroke="#1e8ffc" stroke-width="2.5"/>
<path d="M127.8,544.0H158.5" fill="none" stroke="#8c0a94" stroke-width="1.6"/>
<path d="M127.8,539.0v10.0M149.6,539.0v10.0M158.5,539.0v10.0" fill="none" stroke="#8c0a94" stroke-width="2.5"/>
<path d="M147.6,557.7H158.9" fill="none" stroke="#3bb273" stroke-width="1.6"/>
<path d="M147.6,552.7v10.0M154.3,552.7v10.0M158.9,552.7v10.0" fill="none" stroke="#3bb273" stroke-width="2.5"/>
<path d="M299.5,516.2H312.9" fill="none" stroke="#1f1f87" stroke-width="1.6"/>
<path d="M299.5,511.2v10.0M306.5,511.2v10.0M312.9,511.2v10.0" fill="none" stroke="#1f1f87" stroke-width="2.5"/>
<path d="M312.9,529.8H324.1" fill="none" stroke="#1e8ffc" stroke-width="1.6"/>
<path d="M312.9,524.8v10.0M317.8,524.8v10.0M324.1,524.8v10.0" fill="none" stroke="#1e8ffc" stroke-width="2.5"/>
<path d="M281.8,544.0H297.4" fill="none" stroke="#8c0a94" stroke-width="1.6"/>
<path d="M281.8,539.0v10.0M289.6,539.0v10.0M297.4,539.0v10.0" fill="none" stroke="#8c0a94" stroke-width="2.5"/>
<path d="M315.0,557.7H328.3" fill="none" stroke="#3bb273" stroke-width="1.6"/>
<path d="M315.0,552.7v10.0M322.0,552.7v10.0M328.3,552.7v10.0" fill="none" stroke="#3bb273" stroke-width="2.5"/>
<path d="M509.3,516.2H524.6" fill="none" stroke="#1f1f87" stroke-width="1.6"/>
<path d="M509.3,511.2v10.0M518.5,511.2v10.0M524.6,511.2v10.0" fill="none" stroke="#1f1f87" stroke-width="2.5"/>
<path d="M504.4,529.8H523.4" fill="none" stroke="#1e8ffc" stroke-width="1.6"/>
<path d="M504.4,524.8v10.0M515.3,524.8v10.0M523.4,524.8v10.0" fill="none" stroke="#1e8ffc" stroke-width="2.5"/>
<path d="M487.8,544.0H520.3" fill="none" stroke="#8c0a94" stroke-width="1.6"/>
<path d="M487.8,539.0v10.0M508.6,539.0v10.0M520.3,539.0v10.0" fill="none" stroke="#8c0a94" stroke-width="2.5"/>
<path d="M473.7,557.7H515.4" fill="none" stroke="#3bb273" stroke-width="1.6"/>
<path d="M473.7,552.7v10.0M500.5,552.7v10.0M515.4,552.7v10.0" fill="none" stroke="#3bb273" stroke-width="2.5"/>
<path d="M701.2,516.2H715.8" fill="none" stroke="#1f1f87" stroke-width="1.6"/>
<path d="M701.2,511.2v10.0M709.1,511.2v10.0M715.8,511.2v10.0" fill="none" stroke="#1f1f87" stroke-width="2.5"/>
<path d="M689.5,529.8H715.2" fill="none" stroke="#1e8ffc" stroke-width="1.6"/>
<path d="M689.5,524.8v10.0M708.3,524.8v10.0M715.2,524.8v10.0" fill="none" stroke="#1e8ffc" stroke-width="2.5"/>
<path d="M649.2,544.0H711.2" fill="none" stroke="#8c0a94" stroke-width="1.6"/>
<path d="M649.2,539.0v10.0M690.2,539.0v10.0M711.2,539.0v10.0" fill="none" stroke="#8c0a94" stroke-width="2.5"/>
<path d="M630.0,557.7H647.1" fill="none" stroke="#3bb273" stroke-width="1.6"/>
<path d="M630.0,552.7v10.0M637.8,552.7v10.0M647.1,552.7v10.0" fill="none" stroke="#3bb273" stroke-width="2.5"/>
<path d="M63.3,6.5V182.2H215.7" fill="none" stroke="#111" stroke-width="1.2"/>
<path d="M63.3,182.2v6.2M93.7,182.2v6.2M124.0,182.2v6.2M154.4,182.2v6.2M184.7,182.2v6.2M215.1,182.2v6.2" stroke="#111" stroke-width="1.2"/>
<path d="M63.3,182.2h-2.6M63.3,127.3h-2.6M63.3,72.3h-2.6M63.3,17.4h-2.6" stroke="#111" stroke-width="1"/>
<path d="M63.3,206.3V277.1H215.7" fill="none" stroke="#111" stroke-width="1.2"/>
<path d="M63.3,277.1v1.6M93.7,277.1v1.6M124.0,277.1v1.6M154.4,277.1v1.6M184.7,277.1v1.6M215.1,277.1v1.6" stroke="#111" stroke-width="1"/>
<path d="M245.8,6.5V182.2H398.2" fill="none" stroke="#111" stroke-width="1.2"/>
<path d="M245.8,182.2v6.2M276.1,182.2v6.2M306.5,182.2v6.2M336.8,182.2v6.2M367.2,182.2v6.2M397.6,182.2v6.2" stroke="#111" stroke-width="1.2"/>
<path d="M245.8,182.2h-2.6M245.8,127.3h-2.6M245.8,72.3h-2.6M245.8,17.4h-2.6" stroke="#111" stroke-width="1"/>
<path d="M245.8,206.3V277.1H398.2" fill="none" stroke="#111" stroke-width="1.2"/>
<path d="M245.8,277.1v1.6M276.1,277.1v1.6M306.5,277.1v1.6M336.8,277.1v1.6M367.2,277.1v1.6M397.6,277.1v1.6" stroke="#111" stroke-width="1"/>
<path d="M428.2,6.5V182.2H580.6" fill="none" stroke="#111" stroke-width="1.2"/>
<path d="M428.2,182.2v6.2M458.6,182.2v6.2M488.9,182.2v6.2M519.3,182.2v6.2M549.6,182.2v6.2M580.0,182.2v6.2" stroke="#111" stroke-width="1.2"/>
<path d="M428.2,182.2h-2.6M428.2,127.3h-2.6M428.2,72.3h-2.6M428.2,17.4h-2.6" stroke="#111" stroke-width="1"/>
<path d="M428.2,206.3V277.1H580.6" fill="none" stroke="#111" stroke-width="1.2"/>
<path d="M428.2,277.1v1.6M458.6,277.1v1.6M488.9,277.1v1.6M519.3,277.1v1.6M549.6,277.1v1.6M580.0,277.1v1.6" stroke="#111" stroke-width="1"/>
<path d="M610.6,6.5V182.2H763.1" fill="none" stroke="#111" stroke-width="1.2"/>
<path d="M610.6,182.2v6.2M641.0,182.2v6.2M671.4,182.2v6.2M701.7,182.2v6.2M732.1,182.2v6.2M762.5,182.2v6.2" stroke="#111" stroke-width="1.2"/>
<path d="M610.6,182.2h-2.6M610.6,127.3h-2.6M610.6,72.3h-2.6M610.6,17.4h-2.6" stroke="#111" stroke-width="1"/>
<path d="M610.6,206.3V277.1H763.1" fill="none" stroke="#111" stroke-width="1.2"/>
<path d="M610.6,277.1v1.6M641.0,277.1v1.6M671.4,277.1v1.6M701.7,277.1v1.6M732.1,277.1v1.6M762.5,277.1v1.6" stroke="#111" stroke-width="1"/>
<path d="M63.3,300.8V477.0H215.7" fill="none" stroke="#111" stroke-width="1.2"/>
<path d="M63.3,477.0v6.2M93.7,477.0v6.2M124.0,477.0v6.2M154.4,477.0v6.2M184.7,477.0v6.2M215.1,477.0v6.2" stroke="#111" stroke-width="1.2"/>
<path d="M63.3,477.0h-2.6M63.3,422.1h-2.6M63.3,367.1h-2.6M63.3,312.2h-2.6" stroke="#111" stroke-width="1"/>
<path d="M63.3,501.0V571.9H215.7" fill="none" stroke="#111" stroke-width="1.2"/>
<path d="M63.3,571.9v1.6M93.7,571.9v1.6M124.0,571.9v1.6M154.4,571.9v1.6M184.7,571.9v1.6M215.1,571.9v1.6" stroke="#111" stroke-width="1"/>
<path d="M245.8,300.8V477.0H398.2" fill="none" stroke="#111" stroke-width="1.2"/>
<path d="M245.8,477.0v6.2M276.1,477.0v6.2M306.5,477.0v6.2M336.8,477.0v6.2M367.2,477.0v6.2M397.6,477.0v6.2" stroke="#111" stroke-width="1.2"/>
<path d="M245.8,477.0h-2.6M245.8,422.1h-2.6M245.8,367.1h-2.6M245.8,312.2h-2.6" stroke="#111" stroke-width="1"/>
<path d="M245.8,501.0V571.9H398.2" fill="none" stroke="#111" stroke-width="1.2"/>
<path d="M245.8,571.9v1.6M276.1,571.9v1.6M306.5,571.9v1.6M336.8,571.9v1.6M367.2,571.9v1.6M397.6,571.9v1.6" stroke="#111" stroke-width="1"/>
<path d="M428.2,300.8V477.0H580.6" fill="none" stroke="#111" stroke-width="1.2"/>
<path d="M428.2,477.0v6.2M458.6,477.0v6.2M488.9,477.0v6.2M519.3,477.0v6.2M549.6,477.0v6.2M580.0,477.0v6.2" stroke="#111" stroke-width="1.2"/>
<path d="M428.2,477.0h-2.6M428.2,422.1h-2.6M428.2,367.1h-2.6M428.2,312.2h-2.6" stroke="#111" stroke-width="1"/>
<path d="M428.2,501.0V571.9H580.6" fill="none" stroke="#111" stroke-width="1.2"/>
<path d="M428.2,571.9v1.6M458.6,571.9v1.6M488.9,571.9v1.6M519.3,571.9v1.6M549.6,571.9v1.6M580.0,571.9v1.6" stroke="#111" stroke-width="1"/>
<path d="M610.6,300.8V477.0H763.1" fill="none" stroke="#111" stroke-width="1.2"/>
<path d="M610.6,477.0v6.2M641.0,477.0v6.2M671.4,477.0v6.2M701.7,477.0v6.2M732.1,477.0v6.2M762.5,477.0v6.2" stroke="#111" stroke-width="1.2"/>
<path d="M610.6,477.0h-2.6M610.6,422.1h-2.6M610.6,367.1h-2.6M610.6,312.2h-2.6" stroke="#111" stroke-width="1"/>
<path d="M610.6,501.0V571.9H763.1" fill="none" stroke="#111" stroke-width="1.2"/>
<path d="M610.6,571.9v1.6M641.0,571.9v1.6M671.4,571.9v1.6M701.7,571.9v1.6M732.1,571.9v1.6M762.5,571.9v1.6" stroke="#111" stroke-width="1"/>
<g transform="translate(0 0)"><ellipse cx="191.8" cy="18.6" rx="5.6" ry="7.6" transform="rotate(-18 191.8 18.6)" fill="#ececec"/><ellipse cx="196.2" cy="18.2" rx="4.2" ry="7.8" transform="rotate(-8 196.2 18.2)" fill="#d2d2d2"/><ellipse cx="214.6" cy="19.6" rx="4.0" ry="6.6" transform="rotate(28 214.6 19.6)" fill="#a3a3a3"/><ellipse cx="204.9" cy="14.6" rx="2.4" ry="3.4" fill="#c4c4c4"/><path d="M199.6,10.4 C197.4,11.2 196.6,14 196.9,16.8 C197.3,21.5 200.6,25.3 204.9,25.3 C209.4,25.3 212.6,21.3 212.9,16.6 C213.1,13.2 211.9,10.6 209.9,10.4 C208.2,10.3 207.0,11.2 206.6,12.6 C206.2,14.6 205.7,16.6 204.8,16.6 C203.9,16.6 203.4,14.6 203.0,12.4 C202.7,11 201.4,10.1 199.6,10.4Z" fill="#262626"/><path d="M201.9,24.6 L200.9,28.9" stroke="#262626" stroke-width="0.9" fill="none"/><path d="M205.5,25.6 L210.5,28.5 M211.2,24.2 L212,28.8" stroke="#c8c8c8" stroke-width="1.0" fill="none"/><ellipse cx="210.4" cy="36.9" rx="6.9" ry="8.1" fill="#9d9d9d"/><path d="M197.2,28.3 C192.3,28.5 189.6,32.3 189.6,36.2 C189.6,40.8 192.9,44.3 197.2,44.3 C200.3,44.3 203.2,43.3 203.9,41.7 C204.2,40.6 203.4,40.1 202.3,39.7 C200.6,39.1 199.2,38.2 199.1,36.6 C199.0,35 200.9,34.2 202.6,33.8 C204.3,33.4 205.3,32.9 205.2,31.6 C205.0,29.6 201.6,28.2 197.2,28.3Z" fill="#262626"/><path d="M200.2,36.3 L203.4,34.6 L204.8,34.7 L207.4,36.3 L204.9,38.4 L202.8,38.2Z" fill="#f0f0f0"/><path d="M201.6,44.5 L202.3,51.5" stroke="#262626" stroke-width="0.8" fill="none"/><path d="M205.9,44.5 L205.0,51.5" stroke="#a0a0a0" stroke-width="0.8" fill="none"/><path d="M202.4,51.5 L200.4,61.5" stroke="#262626" stroke-width="1.5" fill="none"/><path d="M204.9,51.5 L206.9,61.5" stroke="#8a8a8a" stroke-width="1.5" fill="none"/></g>
<circle cx="194.1" cy="45.0" r="2.4" fill="#3dbb3d"/>
<circle cx="211.1" cy="44.2" r="2.8" fill="#ee1111"/>
<g transform="translate(0 293.5)"><ellipse cx="191.8" cy="18.6" rx="5.6" ry="7.6" transform="rotate(-18 191.8 18.6)" fill="#ececec"/><ellipse cx="196.2" cy="18.2" rx="4.2" ry="7.8" transform="rotate(-8 196.2 18.2)" fill="#d2d2d2"/><ellipse cx="214.6" cy="19.6" rx="4.0" ry="6.6" transform="rotate(28 214.6 19.6)" fill="#a3a3a3"/><ellipse cx="204.9" cy="14.6" rx="2.4" ry="3.4" fill="#c4c4c4"/><path d="M199.6,10.4 C197.4,11.2 196.6,14 196.9,16.8 C197.3,21.5 200.6,25.3 204.9,25.3 C209.4,25.3 212.6,21.3 212.9,16.6 C213.1,13.2 211.9,10.6 209.9,10.4 C208.2,10.3 207.0,11.2 206.6,12.6 C206.2,14.6 205.7,16.6 204.8,16.6 C203.9,16.6 203.4,14.6 203.0,12.4 C202.7,11 201.4,10.1 199.6,10.4Z" fill="#262626"/><path d="M201.9,24.6 L200.9,28.9" stroke="#262626" stroke-width="0.9" fill="none"/><path d="M205.5,25.6 L210.5,28.5 M211.2,24.2 L212,28.8" stroke="#c8c8c8" stroke-width="1.0" fill="none"/><ellipse cx="210.4" cy="36.9" rx="6.9" ry="8.1" fill="#9d9d9d"/><path d="M197.2,28.3 C192.3,28.5 189.6,32.3 189.6,36.2 C189.6,40.8 192.9,44.3 197.2,44.3 C200.3,44.3 203.2,43.3 203.9,41.7 C204.2,40.6 203.4,40.1 202.3,39.7 C200.6,39.1 199.2,38.2 199.1,36.6 C199.0,35 200.9,34.2 202.6,33.8 C204.3,33.4 205.3,32.9 205.2,31.6 C205.0,29.6 201.6,28.2 197.2,28.3Z" fill="#262626"/><path d="M200.2,36.3 L203.4,34.6 L204.8,34.7 L207.4,36.3 L204.9,38.4 L202.8,38.2Z" fill="#f0f0f0"/><path d="M201.6,44.5 L202.3,51.5" stroke="#262626" stroke-width="0.8" fill="none"/><path d="M205.9,44.5 L205.0,51.5" stroke="#a0a0a0" stroke-width="0.8" fill="none"/><path d="M202.4,51.5 L200.4,61.5" stroke="#262626" stroke-width="1.5" fill="none"/><path d="M204.9,51.5 L206.9,61.5" stroke="#8a8a8a" stroke-width="1.5" fill="none"/></g>
<circle cx="195.7" cy="302.7" r="2.6" fill="#3dbb3d"/>
<circle cx="206.3" cy="302.7" r="2.9" fill="#ee1111"/>
<text x="54.4" y="187.7" font-family="Liberation Sans" font-size="14.6" font-weight="normal" fill="#111" text-anchor="end" textLength="29.7" lengthAdjust="spacingAndGlyphs">0.00</text>
<text x="54.4" y="132.77499999999998" font-family="Liberation Sans" font-size="14.6" font-weight="normal" fill="#111" text-anchor="end" textLength="29.7" lengthAdjust="spacingAndGlyphs">0.05</text>
<text x="54.4" y="77.84999999999998" font-family="Liberation Sans" font-size="14.6" font-weight="normal" fill="#111" text-anchor="end" textLength="29.7" lengthAdjust="spacingAndGlyphs">0.10</text>
<text x="54.4" y="22.924999999999983" font-family="Liberation Sans" font-size="14.6" font-weight="normal" fill="#111" text-anchor="end" textLength="29.7" lengthAdjust="spacingAndGlyphs">0.15</text>
<text x="15.9" y="95.49999999999999" font-family="Liberation Sans" font-size="14.6" font-weight="normal" fill="#111" text-anchor="middle" textLength="71.5" lengthAdjust="spacingAndGlyphs" transform="rotate(-90 15.9 95.49999999999999)">Frequency</text>
<text x="16.1" y="242.2" font-family="Liberation Sans" font-size="14.6" font-weight="normal" fill="#111" text-anchor="middle" textLength="63" lengthAdjust="spacingAndGlyphs" transform="rotate(-90 16.1 242.2)">Quartiles</text>
<text x="54.4" y="482.5" font-family="Liberation Sans" font-size="14.6" font-weight="normal" fill="#111" text-anchor="end" textLength="29.7" lengthAdjust="spacingAndGlyphs">0.00</text>
<text x="54.4" y="427.575" font-family="Liberation Sans" font-size="14.6" font-weight="normal" fill="#111" text-anchor="end" textLength="29.7" lengthAdjust="spacingAndGlyphs">0.05</text>
<text x="54.4" y="372.65" font-family="Liberation Sans" font-size="14.6" font-weight="normal" fill="#111" text-anchor="end" textLength="29.7" lengthAdjust="spacingAndGlyphs">0.10</text>
<text x="54.4" y="317.725" font-family="Liberation Sans" font-size="14.6" font-weight="normal" fill="#111" text-anchor="end" textLength="29.7" lengthAdjust="spacingAndGlyphs">0.15</text>
<text x="15.9" y="390.3" font-family="Liberation Sans" font-size="14.6" font-weight="normal" fill="#111" text-anchor="middle" textLength="71.5" lengthAdjust="spacingAndGlyphs" transform="rotate(-90 15.9 390.3)">Frequency</text>
<text x="16.1" y="536.9" font-family="Liberation Sans" font-size="14.6" font-weight="normal" fill="#111" text-anchor="middle" textLength="63" lengthAdjust="spacingAndGlyphs" transform="rotate(-90 16.1 536.9)">Quartiles</text>
<text x="63.3" y="588.5" font-family="Liberation Sans" font-size="12.4" font-weight="normal" fill="#111" text-anchor="middle" textLength="18.3" lengthAdjust="spacingAndGlyphs">0.0</text>
<text x="93.7" y="588.5" font-family="Liberation Sans" font-size="12.4" font-weight="normal" fill="#111" text-anchor="middle" textLength="18.3" lengthAdjust="spacingAndGlyphs">0.2</text>
<text x="124.0" y="588.5" font-family="Liberation Sans" font-size="12.4" font-weight="normal" fill="#111" text-anchor="middle" textLength="18.3" lengthAdjust="spacingAndGlyphs">0.4</text>
<text x="154.4" y="588.5" font-family="Liberation Sans" font-size="12.4" font-weight="normal" fill="#111" text-anchor="middle" textLength="18.3" lengthAdjust="spacingAndGlyphs">0.6</text>
<text x="184.7" y="588.5" font-family="Liberation Sans" font-size="12.4" font-weight="normal" fill="#111" text-anchor="middle" textLength="18.3" lengthAdjust="spacingAndGlyphs">0.8</text>
<text x="215.1" y="588.5" font-family="Liberation Sans" font-size="12.4" font-weight="normal" fill="#111" text-anchor="middle" textLength="18.3" lengthAdjust="spacingAndGlyphs">1.0</text>
<text x="139.2" y="603.0" font-family="Liberation Sans" font-size="15.8" font-weight="normal" fill="#111" text-anchor="middle" textLength="33.8" lengthAdjust="spacingAndGlyphs">FRET</text>
<text x="245.8" y="588.5" font-family="Liberation Sans" font-size="12.4" font-weight="normal" fill="#111" text-anchor="middle" textLength="18.3" lengthAdjust="spacingAndGlyphs">0.0</text>
<text x="276.1" y="588.5" font-family="Liberation Sans" font-size="12.4" font-weight="normal" fill="#111" text-anchor="middle" textLength="18.3" lengthAdjust="spacingAndGlyphs">0.2</text>
<text x="306.5" y="588.5" font-family="Liberation Sans" font-size="12.4" font-weight="normal" fill="#111" text-anchor="middle" textLength="18.3" lengthAdjust="spacingAndGlyphs">0.4</text>
<text x="336.8" y="588.5" font-family="Liberation Sans" font-size="12.4" font-weight="normal" fill="#111" text-anchor="middle" textLength="18.3" lengthAdjust="spacingAndGlyphs">0.6</text>
<text x="367.2" y="588.5" font-family="Liberation Sans" font-size="12.4" font-weight="normal" fill="#111" text-anchor="middle" textLength="18.3" lengthAdjust="spacingAndGlyphs">0.8</text>
<text x="397.6" y="588.5" font-family="Liberation Sans" font-size="12.4" font-weight="normal" fill="#111" text-anchor="middle" textLength="18.3" lengthAdjust="spacingAndGlyphs">1.0</text>
<text x="321.6" y="603.0" font-family="Liberation Sans" font-size="15.8" font-weight="normal" fill="#111" text-anchor="middle" textLength="33.8" lengthAdjust="spacingAndGlyphs">FRET</text>
<text x="428.2" y="588.5" font-family="Liberation Sans" font-size="12.4" font-weight="normal" fill="#111" text-anchor="middle" textLength="18.3" lengthAdjust="spacingAndGlyphs">0.0</text>
<text x="458.6" y="588.5" font-family="Liberation Sans" font-size="12.4" font-weight="normal" fill="#111" text-anchor="middle" textLength="18.3" lengthAdjust="spacingAndGlyphs">0.2</text>
<text x="488.9" y="588.5" font-family="Liberation Sans" font-size="12.4" font-weight="normal" fill="#111" text-anchor="middle" textLength="18.3" lengthAdjust="spacingAndGlyphs">0.4</text>
<text x="519.3" y="588.5" font-family="Liberation Sans" font-size="12.4" font-weight="normal" fill="#111" text-anchor="middle" textLength="18.3" lengthAdjust="spacingAndGlyphs">0.6</text>
<text x="549.6" y="588.5" font-family="Liberation Sans" font-size="12.4" font-weight="normal" fill="#111" text-anchor="middle" textLength="18.3" lengthAdjust="spacingAndGlyphs">0.8</text>
<text x="580.0" y="588.5" font-family="Liberation Sans" font-size="12.4" font-weight="normal" fill="#111" text-anchor="middle" textLength="18.3" lengthAdjust="spacingAndGlyphs">1.0</text>
<text x="504.1" y="603.0" font-family="Liberation Sans" font-size="15.8" font-weight="normal" fill="#111" text-anchor="middle" textLength="33.8" lengthAdjust="spacingAndGlyphs">FRET</text>
<text x="610.6" y="588.5" font-family="Liberation Sans" font-size="12.4" font-weight="normal" fill="#111" text-anchor="middle" textLength="18.3" lengthAdjust="spacingAndGlyphs">0.0</text>
<text x="641.0" y="588.5" font-family="Liberation Sans" font-size="12.4" font-weight="normal" fill="#111" text-anchor="middle" textLength="18.3" lengthAdjust="spacingAndGlyphs">0.2</text>
<text x="671.4" y="588.5" font-family="Liberation Sans" font-size="12.4" font-weight="normal" fill="#111" text-anchor="middle" textLength="18.3" lengthAdjust="spacingAndGlyphs">0.4</text>
<text x="701.7" y="588.5" font-family="Liberation Sans" font-size="12.4" font-weight="normal" fill="#111" text-anchor="middle" textLength="18.3" lengthAdjust="spacingAndGlyphs">0.6</text>
<text x="732.1" y="588.5" font-family="Liberation Sans" font-size="12.4" font-weight="normal" fill="#111" text-anchor="middle" textLength="18.3" lengthAdjust="spacingAndGlyphs">0.8</text>
<text x="762.4" y="588.5" font-family="Liberation Sans" font-size="12.4" font-weight="normal" fill="#111" text-anchor="middle" textLength="18.3" lengthAdjust="spacingAndGlyphs">1.0</text>
<text x="686.5" y="603.0" font-family="Liberation Sans" font-size="15.8" font-weight="normal" fill="#111" text-anchor="middle" textLength="33.8" lengthAdjust="spacingAndGlyphs">FRET</text>
<text x="0.5" y="12.6" font-family="Liberation Sans" font-size="16.8" font-weight="bold" fill="#111" text-anchor="start">A</text>
<text x="68.0" y="20.6" font-family="Liberation Sans" font-size="11.4" font-weight="bold" fill="#111" text-anchor="start" textLength="63.4" lengthAdjust="spacingAndGlyphs">2A/1a*LBD</text>
<text x="226.0" y="12.6" font-family="Liberation Sans" font-size="16.8" font-weight="bold" fill="#111" text-anchor="start">B</text>
<text x="249.8" y="21.9" font-family="Liberation Sans" font-size="11.4" font-weight="bold" fill="#111" text-anchor="start" textLength="62.7" lengthAdjust="spacingAndGlyphs">2B/1a*LBD</text>
<text x="406.3" y="12.6" font-family="Liberation Sans" font-size="16.8" font-weight="bold" fill="#111" text-anchor="start">C</text>
<text x="433.9" y="21.9" font-family="Liberation Sans" font-size="11.4" font-weight="bold" fill="#111" text-anchor="start" textLength="63.3" lengthAdjust="spacingAndGlyphs">2C/1a*LBD</text>
<text x="587.3" y="12.6" font-family="Liberation Sans" font-size="16.8" font-weight="bold" fill="#111" text-anchor="start">D</text>
<text x="616.3" y="22.0" font-family="Liberation Sans" font-size="11.4" font-weight="bold" fill="#111" text-anchor="start" textLength="62.8" lengthAdjust="spacingAndGlyphs">2D/1a*LBD</text>
<text x="1.0" y="311.6" font-family="Liberation Sans" font-size="16.8" font-weight="bold" fill="#111" text-anchor="start">E</text>
<text x="71.1" y="306.4" font-family="Liberation Sans" font-size="11.4" font-weight="bold" fill="#111" text-anchor="start" textLength="62.9" lengthAdjust="spacingAndGlyphs">2A/1a*NTD</text>
<text x="226.1" y="311.6" font-family="Liberation Sans" font-size="16.8" font-weight="bold" fill="#111" text-anchor="start">F</text>
<text x="253.0" y="307.6" font-family="Liberation Sans" font-size="11.4" font-weight="bold" fill="#111" text-anchor="start" textLength="63.5" lengthAdjust="spacingAndGlyphs">2B/1a*NTD</text>
<text x="406.3" y="311.6" font-family="Liberation Sans" font-size="16.8" font-weight="bold" fill="#111" text-anchor="start">G</text>
<text x="436.9" y="307.6" font-family="Liberation Sans" font-size="11.4" font-weight="bold" fill="#111" text-anchor="start" textLength="63.5" lengthAdjust="spacingAndGlyphs">2C/1a*NTD</text>
<text x="586.8" y="311.6" font-family="Liberation Sans" font-size="16.8" font-weight="bold" fill="#111" text-anchor="start">H</text>
<text x="619.6" y="307.6" font-family="Liberation Sans" font-size="11.4" font-weight="bold" fill="#111" text-anchor="start" textLength="63.0" lengthAdjust="spacingAndGlyphs">2D/1a*NTD</text>
<text x="710.8" y="44.6" font-family="Liberation Sans" font-size="12.2" font-weight="bold" fill="#3bb273" text-anchor="start" textLength="21.6" lengthAdjust="spacingAndGlyphs">CGP</text>
<text x="710.8" y="60.0" font-family="Liberation Sans" font-size="12.2" font-weight="bold" fill="#8c0a94" text-anchor="start" textLength="50.2" lengthAdjust="spacingAndGlyphs">CGP + Glu</text>
<text x="710.8" y="76.3" font-family="Liberation Sans" font-size="12.2" font-weight="bold" fill="#1e8ffc" text-anchor="start" textLength="15.8" lengthAdjust="spacingAndGlyphs">Gly</text>
<text x="710.8" y="91.9" font-family="Liberation Sans" font-size="12.2" font-weight="bold" fill="#1f1f87" text-anchor="start" textLength="44.3" lengthAdjust="spacingAndGlyphs">Gly + Glu</text>
</svg>
</body></html>
